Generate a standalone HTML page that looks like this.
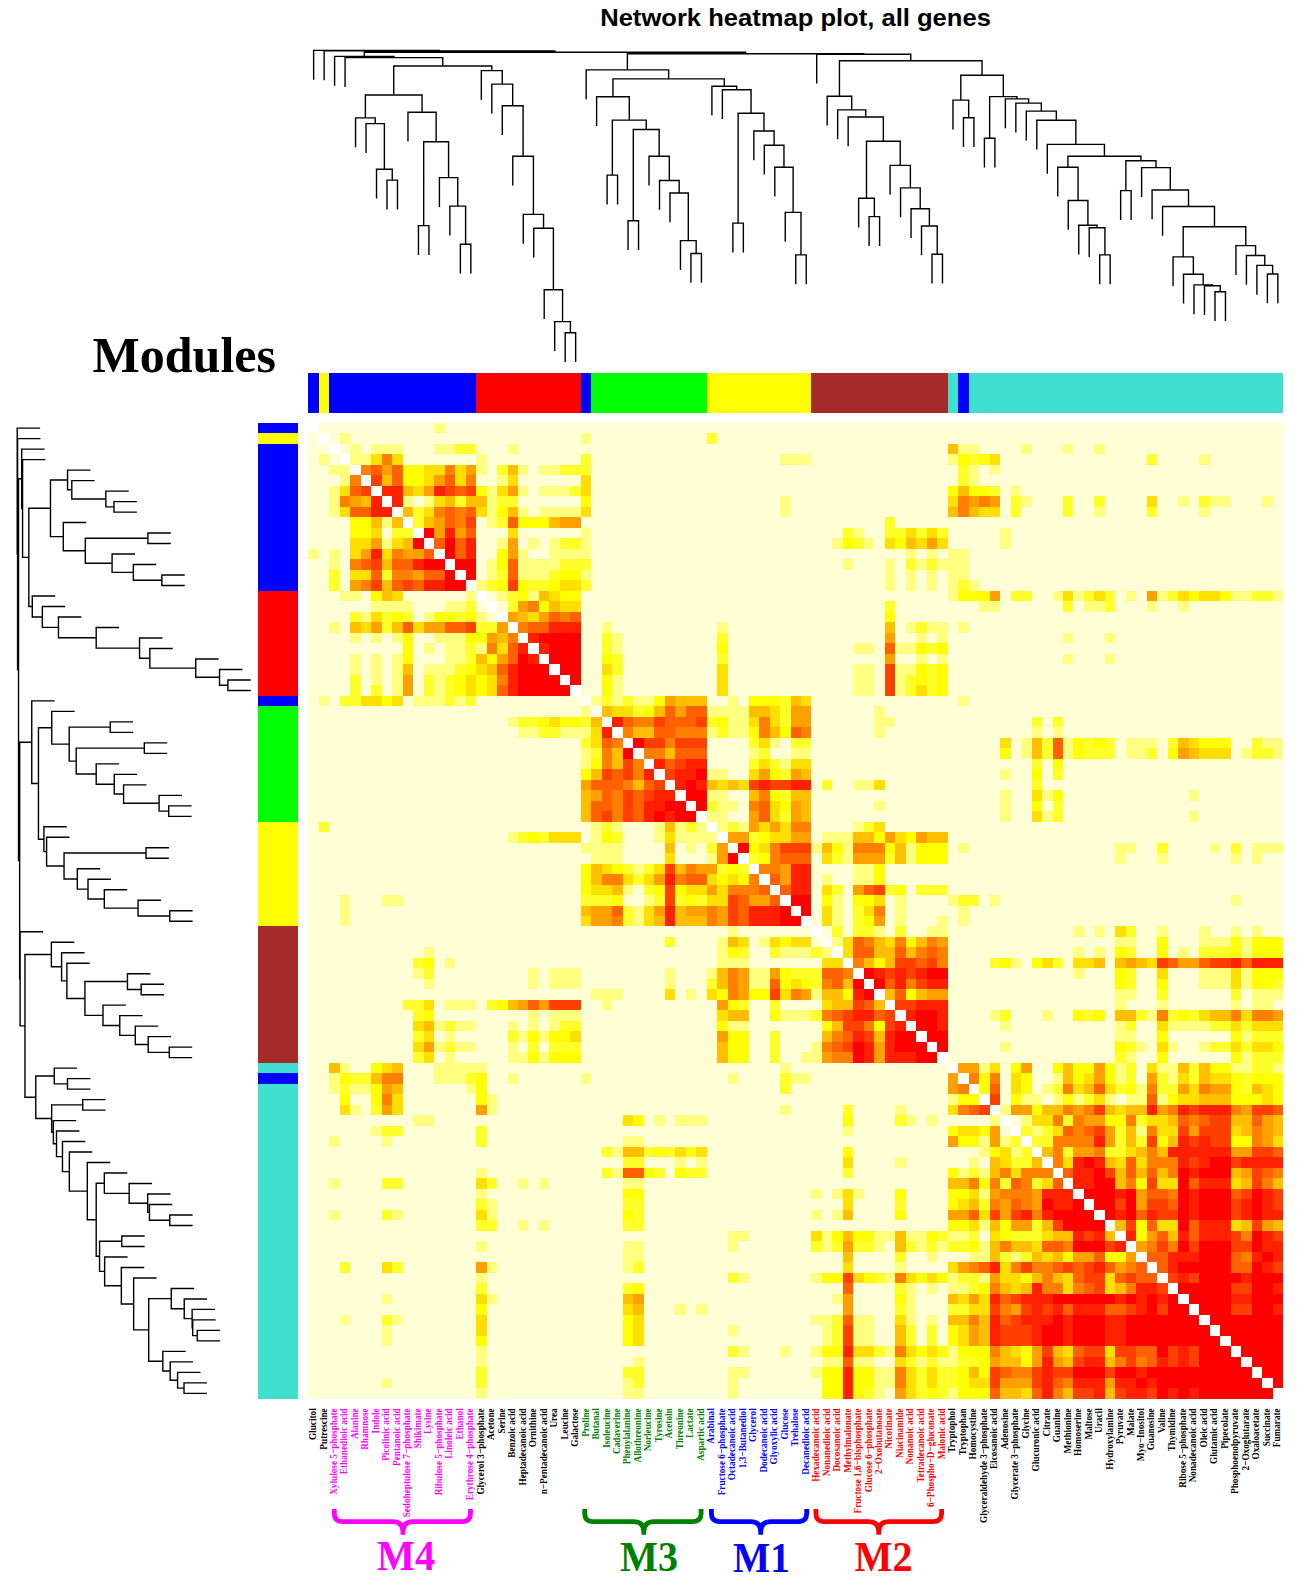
<!DOCTYPE html>
<html><head><meta charset="utf-8"><title>Network heatmap plot, all genes</title>
<style>html,body{margin:0;padding:0;background:#fff}svg{display:block}text{white-space:pre}</style></head><body>
<svg width="1310" height="1585" viewBox="0 0 1310 1585">
<rect width="1310" height="1585" fill="#fff"/>
<text id="title" x="600.2" y="26.1" font-family="'Liberation Sans',Arial,Helvetica,sans-serif" font-weight="bold" font-size="23.3" textLength="390.7" lengthAdjust="spacingAndGlyphs">Network heatmap plot, all genes</text>
<text id="modules" x="92.6" y="372.4" font-family="'Liberation Serif','Times New Roman',Times,serif" font-weight="bold" font-size="50">Modules</text>
<path d="M313.64 50.4V79M324.12 50.9V79.5M334.6 56.4V85M345.08 57.6V86.2M355.56 117.9V146.5M366.04 123.6V152.2M376.52 169.2V197.8M387 180.1V208.7M397.49 180.1V208.7M387 180.1H397.49M392.25 169.2V180.1M376.52 169.2H392.25M384.38 123.6V169.2M366.04 123.6H384.38M375.21 117.9V123.6M355.56 117.9H375.21M365.39 95V117.9M407.97 112.2V140.8M418.45 225.6V254.2M428.93 225.6V254.2M418.45 225.6H428.93M423.69 141.7V225.6M439.41 177.6V206.2M449.89 206.1V234.7M460.37 244.3V272.9M470.85 244.3V272.9M460.37 244.3H470.85M465.61 206.1V244.3M449.89 206.1H465.61M457.75 177.6V206.1M439.41 177.6H457.75M448.58 141.7V177.6M423.69 141.7H448.58M436.13 112.2V141.7M407.97 112.2H436.13M422.05 95V112.2M365.39 95H422.05M393.72 66V95M481.33 70.6V99.2M491.81 84.1V112.7M502.29 105.7V134.3M512.77 156.3V184.9M523.25 214.4V243M533.73 228.2V256.8M544.21 289.7V318.3M554.7 321.6V350.2M565.18 332.8V361.4M575.66 332.8V361.4M565.18 332.8H575.66M570.42 321.6V332.8M554.7 321.6H570.42M562.56 289.7V321.6M544.21 289.7H562.56M553.39 228.2V289.7M533.73 228.2H553.39M543.56 214.4V228.2M523.25 214.4H543.56M533.41 156.3V214.4M512.77 156.3H533.41M523.09 105.7V156.3M502.29 105.7H523.09M512.69 84.1V105.7M491.81 84.1H512.69M502.25 70.6V84.1M481.33 70.6H502.25M491.79 66V70.6M393.72 66H491.79M442.75 57.6V66M345.08 57.6H442.75M393.92 56.4V57.6M334.6 56.4H393.92M364.26 52.2V56.4M586.14 69.9V98.5M596.62 96.7V125.3M607.1 175.1V203.7M617.58 175.1V203.7M607.1 175.1H617.58M612.34 120.1V175.1M628.06 220.8V249.4M638.54 220.8V249.4M628.06 220.8H638.54M633.3 129.5V220.8M649.02 156.3V184.9M659.5 180.5V209.1M669.98 193V221.6M680.46 240.6V269.2M690.94 253.5V282.1M701.42 253.5V282.1M690.94 253.5H701.42M696.18 240.6V253.5M680.46 240.6H696.18M688.32 193V240.6M669.98 193H688.32M679.15 180.5V193M659.5 180.5H679.15M669.33 156.3V180.5M649.02 156.3H669.33M659.17 129.5V156.3M633.3 129.5H659.17M646.24 120.1V129.5M612.34 120.1H646.24M629.29 96.7V120.1M596.62 96.7H629.29M612.95 78.9V96.7M711.9 86.2V114.8M722.39 89.8V118.4M732.87 223.1V251.7M743.35 223.1V251.7M732.87 223.1H743.35M738.11 113.2V223.1M753.83 131V159.6M764.31 145.3V173.9M774.79 167.2V195.8M785.27 212.4V241M795.75 254.9V283.5M806.23 254.9V283.5M795.75 254.9H806.23M800.99 212.4V254.9M785.27 212.4H800.99M793.13 167.2V212.4M774.79 167.2H793.13M783.96 145.3V167.2M764.31 145.3H783.96M774.13 131V145.3M753.83 131H774.13M763.98 113.2V131M738.11 113.2H763.98M751.04 89.8V113.2M722.39 89.8H751.04M736.71 86.2V89.8M711.9 86.2H736.71M724.31 78.9V86.2M612.95 78.9H724.31M668.63 69.9V78.9M586.14 69.9H668.63M627.38 53.7V69.9M816.71 54.3V82.9M827.19 96.2V124.8M837.67 109.9V138.5M848.15 117V145.6M858.63 198.2V226.8M869.11 216.6V245.2M879.6 216.6V245.2M869.11 216.6H879.6M874.35 198.2V216.6M858.63 198.2H874.35M866.49 141.2V198.2M890.08 165.4V194M900.56 187.9V216.5M911.04 208.7V237.3M921.52 226V254.6M932 254.3V282.9M942.48 254.3V282.9M932 254.3H942.48M937.24 226V254.3M921.52 226H937.24M929.38 208.7V226M911.04 208.7H929.38M920.21 187.9V208.7M900.56 187.9H920.21M910.38 165.4V187.9M890.08 165.4H910.38M900.23 141.2V165.4M866.49 141.2H900.23M883.36 117V141.2M848.15 117H883.36M865.76 109.9V117M837.67 109.9H865.76M851.72 96.2V109.9M827.19 96.2H851.72M839.45 60.8V96.2M952.96 100.1V128.7M963.44 117.8V146.4M973.92 117.8V146.4M963.44 117.8H973.92M968.68 100.1V117.8M952.96 100.1H968.68M960.82 75.3V100.1M984.4 138.2V166.8M994.88 138.2V166.8M984.4 138.2H994.88M989.64 96.6V138.2M1005.36 98.9V127.5M1015.84 103.1V131.7M1026.32 111.1V139.7M1036.8 120.3V148.9M1047.29 144.4V173M1057.77 167.2V195.8M1068.25 200.5V229.1M1078.73 225.3V253.9M1089.21 227.7V256.3M1099.69 254.9V283.5M1110.17 254.9V283.5M1099.69 254.9H1110.17M1104.93 227.7V254.9M1089.21 227.7H1104.93M1097.07 225.3V227.7M1078.73 225.3H1097.07M1087.9 200.5V225.3M1068.25 200.5H1087.9M1078.07 167.2V200.5M1057.77 167.2H1078.07M1067.92 156.3V167.2M1120.65 190.6V219.2M1131.13 190.6V219.2M1120.65 190.6H1131.13M1125.89 160.8V190.6M1141.61 167.6V196.2M1152.09 190V218.6M1162.57 206.5V235.1M1173.05 256.9V285.5M1183.53 274.3V302.9M1194.01 284.9V313.5M1204.5 285.7V314.3M1214.98 291.8V320.4M1225.46 291.8V320.4M1214.98 291.8H1225.46M1220.22 285.7V291.8M1204.5 285.7H1220.22M1212.36 284.9V285.7M1194.01 284.9H1212.36M1203.19 274.3V284.9M1183.53 274.3H1203.19M1193.36 256.9V274.3M1173.05 256.9H1193.36M1183.21 226.7V256.9M1235.94 245.6V274.2M1246.42 255.5V284.1M1256.9 265.4V294M1267.38 274V302.6M1277.86 274V302.6M1267.38 274H1277.86M1272.62 265.4V274M1256.9 265.4H1272.62M1264.76 255.5V265.4M1246.42 255.5H1264.76M1255.59 245.6V255.5M1235.94 245.6H1255.59M1245.76 226.7V245.6M1183.21 226.7H1245.76M1214.48 206.5V226.7M1162.57 206.5H1214.48M1188.53 190V206.5M1152.09 190H1188.53M1170.31 167.6V190M1141.61 167.6H1170.31M1155.96 160.8V167.6M1125.89 160.8H1155.96M1140.93 156.3V160.8M1067.92 156.3H1140.93M1104.42 144.4V156.3M1047.29 144.4H1104.42M1075.85 120.3V144.4M1036.8 120.3H1075.85M1056.33 111.1V120.3M1026.32 111.1H1056.33M1041.33 103.1V111.1M1015.84 103.1H1041.33M1028.59 98.9V103.1M1005.36 98.9H1028.59M1016.97 96.6V98.9M989.64 96.6H1016.97M1003.31 75.3V96.6M960.82 75.3H1003.31M982.06 60.8V75.3M839.45 60.8H982.06M910.76 54.3V60.8M816.71 54.3H910.76M863.74 53.7V54.3M627.38 53.7H863.74M745.56 52.2V53.7M364.26 52.2H745.56M554.91 50.9V52.2M324.12 50.9H554.91M439.52 50.4V50.9M313.64 50.4H439.52" fill="none" stroke="#000" stroke-width="1.4" stroke-linecap="square"/>
<path d="M17.2 428.15H39.4M17.57 438.64H39.77M21.68 449.13H43.88M22.57 459.62H44.77M67.55 470.11H89.75M71.81 480.6H94.01M105.82 491.09H128.02M113.96 501.59H136.16M113.96 512.08H136.16M113.96 501.59V512.08M105.82 506.83H113.96M105.82 491.09V506.83M71.81 498.96H105.82M71.81 480.6V498.96M67.55 489.78H71.81M67.55 470.11V489.78M50.47 479.95H67.55M63.3 522.57H85.5M147.9 533.06H170.1M147.9 543.55H170.1M147.9 533.06V543.55M85.31 538.31H147.9M112.09 554.04H134.29M133.35 564.53H155.55M161.85 575.03H184.05M161.85 585.52H184.05M161.85 575.03V585.52M133.35 580.27H161.85M133.35 564.53V580.27M112.09 572.4H133.35M112.09 554.04V572.4M85.31 563.22H112.09M85.31 538.31V563.22M63.3 550.76H85.31M63.3 522.57V550.76M50.47 536.67H63.3M50.47 479.95V536.67M28.84 508.31H50.47M32.27 596.01H54.47M42.34 606.5H64.54M58.45 616.99H80.65M96.2 627.48H118.4M139.54 637.97H161.74M149.84 648.47H172.04M195.72 658.96H217.92M219.52 669.45H241.72M227.87 679.94H250.07M227.87 690.43H250.07M227.87 679.94V690.43M219.52 685.18H227.87M219.52 669.45V685.18M195.72 677.32H219.52M195.72 658.96V677.32M149.84 668.14H195.72M149.84 648.47V668.14M139.54 658.3H149.84M139.54 637.97V658.3M96.2 648.14H139.54M96.2 627.48V648.14M58.45 637.81H96.2M58.45 616.99V637.81M42.34 627.4H58.45M42.34 606.5V627.4M32.27 616.95H42.34M32.27 596.01V616.95M28.84 606.48H32.27M28.84 508.31V606.48M22.57 557.39H28.84M22.57 459.62V557.39M21.68 508.51H22.57M21.68 449.13V508.51M18.54 478.82H21.68M31.75 700.92H53.95M51.74 711.41H73.94M110.23 721.9H132.43M110.23 732.4H132.43M110.23 721.9V732.4M69.2 727.15H110.23M144.32 742.89H166.52M144.32 753.38H166.52M144.32 742.89V753.38M76.21 748.13H144.32M96.2 763.87H118.4M114.25 774.36H136.45M123.58 784.85H145.78M159.09 795.34H181.29M168.71 805.84H190.91M168.71 816.33H190.91M168.71 805.84V816.33M159.09 811.08H168.71M159.09 795.34V811.08M123.58 803.21H159.09M123.58 784.85V803.21M114.25 794.03H123.58M114.25 774.36V794.03M96.2 784.2H114.25M96.2 763.87V784.2M76.21 774.03H96.2M76.21 748.13V774.03M69.2 761.08H76.21M69.2 727.15V761.08M51.74 744.12H69.2M51.74 711.41V744.12M38.46 727.77H51.74M43.91 826.82H66.11M46.59 837.31H68.79M146.03 847.8H168.23M146.03 858.29H168.23M146.03 847.8V858.29M64.05 853.05H146.03M77.33 868.78H99.53M88 879.28H110.2M104.33 889.77H126.53M138.05 900.26H160.25M169.76 910.75H191.96M169.76 921.24H191.96M169.76 910.75V921.24M138.05 916H169.76M138.05 900.26V916M104.33 908.13H138.05M104.33 889.77V908.13M88 898.95H104.33M88 879.28V898.95M77.33 889.11H88M77.33 868.78V889.11M64.05 878.95H77.33M64.05 853.05V878.95M46.59 866H64.05M46.59 837.31V866M43.91 851.65H46.59M43.91 826.82V851.65M38.46 839.24H43.91M38.46 727.77V839.24M31.75 783.5H38.46M31.75 700.92V783.5M19.66 742.21H31.75M20.11 931.73H42.31M51.37 942.22H73.57M61.59 952.72H83.79M66.88 963.21H89.08M127.46 973.7H149.66M141.19 984.19H163.39M141.19 994.68H163.39M141.19 984.19V994.68M127.46 989.44H141.19M127.46 973.7V989.44M84.94 981.57H127.46M102.99 1005.17H125.19M119.78 1015.66H141.97M135.29 1026.16H157.49M148.2 1036.65H170.4M169.31 1047.14H191.51M169.31 1057.63H191.51M169.31 1047.14V1057.63M148.2 1052.38H169.31M148.2 1036.65V1052.38M135.29 1044.52H148.2M135.29 1026.16V1044.52M119.78 1035.34H135.29M119.78 1015.66V1035.34M102.99 1025.5H119.78M102.99 1005.17V1025.5M84.94 1015.34H102.99M84.94 981.57V1015.34M66.88 998.45H84.94M66.88 963.21V998.45M61.59 980.83H66.88M61.59 952.72V980.83M51.37 966.77H61.59M51.37 942.22V966.77M24.96 954.5H51.37M54.28 1068.12H76.48M67.48 1078.61H89.68M67.48 1089.1H89.68M67.48 1078.61V1089.1M54.28 1083.86H67.48M54.28 1068.12V1083.86M35.78 1075.99H54.28M82.7 1099.6H104.9M82.7 1110.09H104.9M82.7 1099.6V1110.09M51.67 1104.84H82.7M53.38 1120.58H75.58M56.51 1131.07H78.71M62.48 1141.56H84.68M69.35 1152.05H91.55M87.32 1162.54H109.52M104.33 1173.03H126.53M129.17 1183.53H151.37M147.68 1194.02H169.88M149.47 1204.51H171.67M169.76 1215H191.96M169.76 1225.49H191.96M169.76 1215V1225.49M149.47 1220.25H169.76M149.47 1204.51V1220.25M147.68 1212.38H149.47M147.68 1194.02V1212.38M129.17 1203.2H147.68M129.17 1183.53V1203.2M104.33 1193.36H129.17M104.33 1173.03V1193.36M96.2 1183.2H104.33M121.79 1235.98H143.99M121.79 1246.47H143.99M121.79 1235.98V1246.47M99.56 1241.23H121.79M104.63 1256.97H126.83M121.34 1267.46H143.54M133.65 1277.95H155.85M171.25 1288.44H193.45M184.23 1298.93H206.43M192.14 1309.42H214.34M192.73 1319.91H214.93M197.28 1330.41H219.48M197.28 1340.9H219.48M197.28 1330.41V1340.9M192.73 1335.65H197.28M192.73 1319.91V1335.65M192.14 1327.78H192.73M192.14 1309.42V1327.78M184.23 1318.6H192.14M184.23 1298.93V1318.6M171.25 1308.77H184.23M171.25 1288.44V1308.77M148.72 1298.6H171.25M162.82 1351.39H185.02M170.2 1361.88H192.4M177.59 1372.37H199.79M184.01 1382.86H206.21M184.01 1393.35H206.21M184.01 1382.86V1393.35M177.59 1388.11H184.01M177.59 1372.37V1388.11M170.2 1380.24H177.59M170.2 1361.88V1380.24M162.82 1371.06H170.2M162.82 1351.39V1371.06M148.72 1361.22H162.82M148.72 1298.6V1361.22M133.65 1329.91H148.72M133.65 1277.95V1329.91M121.34 1303.93H133.65M121.34 1267.46V1303.93M104.63 1285.69H121.34M104.63 1256.97V1285.69M99.56 1271.33H104.63M99.56 1241.23V1271.33M96.2 1256.28H99.56M96.2 1183.2V1256.28M87.32 1219.74H96.2M87.32 1162.54V1219.74M69.35 1191.14H87.32M69.35 1152.05V1191.14M62.48 1171.6H69.35M62.48 1141.56V1171.6M56.51 1156.58H62.48M56.51 1131.07V1156.58M53.38 1143.82H56.51M53.38 1120.58V1143.82M51.67 1132.2H53.38M51.67 1104.84V1132.2M35.78 1118.52H51.67M35.78 1075.99V1118.52M24.96 1097.26H35.78M24.96 954.5V1097.26M20.11 1025.88H24.96M20.11 931.73V1025.88M19.66 978.8H20.11M19.66 742.21V978.8M18.54 860.51H19.66M18.54 478.82V860.51M17.57 669.66H18.54M17.57 438.64V669.66M17.2 554.15H17.57M17.2 428.15V554.15" fill="none" stroke="#000" stroke-width="1.4" stroke-linecap="square"/>
<g shape-rendering="crispEdges">
<rect x="308.4" y="373.4" width="10.48" height="39.6" fill="#0000FF"/><rect x="318.88" y="373.4" width="10.48" height="39.6" fill="#FFFF00"/><rect x="329.36" y="373.4" width="146.73" height="39.6" fill="#0000FF"/><rect x="476.09" y="373.4" width="104.81" height="39.6" fill="#FF0000"/><rect x="580.9" y="373.4" width="10.48" height="39.6" fill="#0000FF"/><rect x="591.38" y="373.4" width="115.29" height="39.6" fill="#00FF00"/><rect x="706.66" y="373.4" width="104.81" height="39.6" fill="#FFFF00"/><rect x="811.47" y="373.4" width="136.25" height="39.6" fill="#A52A2A"/><rect x="947.72" y="373.4" width="10.48" height="39.6" fill="#40E0D0"/><rect x="958.2" y="373.4" width="10.48" height="39.6" fill="#0000FF"/><rect x="968.68" y="373.4" width="314.42" height="39.6" fill="#40E0D0"/>
<rect x="258.3" y="422.9" width="39.9" height="10.49" fill="#0000FF"/><rect x="258.3" y="433.39" width="39.9" height="10.49" fill="#FFFF00"/><rect x="258.3" y="443.88" width="39.9" height="146.88" fill="#0000FF"/><rect x="258.3" y="590.76" width="39.9" height="104.91" fill="#FF0000"/><rect x="258.3" y="695.68" width="39.9" height="10.49" fill="#0000FF"/><rect x="258.3" y="706.17" width="39.9" height="115.41" fill="#00FF00"/><rect x="258.3" y="821.57" width="39.9" height="104.91" fill="#FFFF00"/><rect x="258.3" y="926.49" width="39.9" height="136.39" fill="#A52A2A"/><rect x="258.3" y="1062.88" width="39.9" height="10.49" fill="#40E0D0"/><rect x="258.3" y="1073.37" width="39.9" height="10.49" fill="#0000FF"/><rect x="258.3" y="1083.86" width="39.9" height="314.74" fill="#40E0D0"/>
<rect x="308.4" y="422.9" width="974.7" height="975.7" fill="#FFFFD5"/>
<path fill="#FFFFFF" d="M308.4 422.9H318.88V433.39H308.4ZM318.88 433.39H329.36V443.88H318.88ZM329.36 443.88H339.84V454.37H329.36ZM339.84 454.37H350.32V464.87H339.84ZM350.32 464.87H360.8V475.36H350.32ZM360.8 475.36H371.28V485.85H360.8ZM371.28 485.85H381.76V496.34H371.28ZM381.76 496.34H392.25V506.83H381.76ZM392.25 506.83H402.73V517.32H392.25ZM402.73 517.32H413.21V527.81H402.73ZM413.21 527.81H423.69V538.31H413.21ZM423.69 538.31H434.17V548.8H423.69ZM434.17 548.8H444.65V559.29H434.17ZM444.65 559.29H455.13V569.78H444.65ZM455.13 569.78H465.61V580.27H455.13ZM465.61 580.27H476.09V590.76H465.61ZM476.09 590.76H486.57V601.25H476.09ZM486.57 601.25H497.05V611.75H486.57ZM497.05 611.75H507.53V622.24H497.05ZM507.53 622.24H518.01V632.73H507.53ZM518.01 632.73H528.49V643.22H518.01ZM528.49 643.22H538.97V653.71H528.49ZM538.97 653.71H549.45V664.2H538.97ZM549.45 664.2H559.94V674.69H549.45ZM559.94 674.69H570.42V685.18H559.94ZM570.42 685.18H580.9V695.68H570.42ZM580.9 695.68H591.38V706.17H580.9ZM591.38 706.17H601.86V716.66H591.38ZM601.86 716.66H612.34V727.15H601.86ZM612.34 727.15H622.82V737.64H612.34ZM622.82 737.64H633.3V748.13H622.82ZM633.3 748.13H643.78V758.62H633.3ZM643.78 758.62H654.26V769.12H643.78ZM654.26 769.12H664.74V779.61H654.26ZM664.74 779.61H675.22V790.1H664.74ZM675.22 790.1H685.7V800.59H675.22ZM685.7 800.59H696.18V811.08H685.7ZM696.18 811.08H706.66V821.57H696.18ZM706.66 821.57H717.15V832.06H706.66ZM717.15 832.06H727.63V842.56H717.15ZM727.63 842.56H738.11V853.05H727.63ZM738.11 853.05H748.59V863.54H738.11ZM748.59 863.54H759.07V874.03H748.59ZM759.07 874.03H769.55V884.52H759.07ZM769.55 884.52H780.03V895.01H769.55ZM780.03 895.01H790.51V905.5H780.03ZM790.51 905.5H800.99V916H790.51ZM800.99 916H811.47V926.49H800.99ZM811.47 926.49H821.95V936.98H811.47ZM821.95 936.98H832.43V947.47H821.95ZM832.43 947.47H842.91V957.96H832.43ZM842.91 957.96H853.39V968.45H842.91ZM853.39 968.45H863.87V978.94H853.39ZM863.87 978.94H874.35V989.44H863.87ZM874.35 989.44H884.84V999.93H874.35ZM884.84 999.93H895.32V1010.42H884.84ZM895.32 1010.42H905.8V1020.91H895.32ZM905.8 1020.91H916.28V1031.4H905.8ZM916.28 1031.4H926.76V1041.89H916.28ZM926.76 1041.89H937.24V1052.38H926.76ZM937.24 1052.38H947.72V1062.88H937.24ZM947.72 1062.88H958.2V1073.37H947.72ZM958.2 1073.37H968.68V1083.86H958.2ZM968.68 1083.86H979.16V1094.35H968.68ZM979.16 1094.35H989.64V1104.84H979.16ZM989.64 1104.84H1000.12V1115.33H989.64ZM1000.12 1115.33H1010.6V1125.82H1000.12ZM1010.6 1125.82H1021.08V1136.32H1010.6ZM1021.08 1136.32H1031.56V1146.81H1021.08ZM1031.56 1146.81H1042.05V1157.3H1031.56ZM1042.05 1157.3H1052.53V1167.79H1042.05ZM1052.53 1167.79H1063.01V1178.28H1052.53ZM1063.01 1178.28H1073.49V1188.77H1063.01ZM1073.49 1188.77H1083.97V1199.26H1073.49ZM1083.97 1199.26H1094.45V1209.75H1083.97ZM1094.45 1209.75H1104.93V1220.25H1094.45ZM1104.93 1220.25H1115.41V1230.74H1104.93ZM1115.41 1230.74H1125.89V1241.23H1115.41ZM1125.89 1241.23H1136.37V1251.72H1125.89ZM1136.37 1251.72H1146.85V1262.21H1136.37ZM1146.85 1262.21H1157.33V1272.7H1146.85ZM1157.33 1272.7H1167.81V1283.19H1157.33ZM1167.81 1283.19H1178.29V1293.69H1167.81ZM1178.29 1293.69H1188.77V1304.18H1178.29ZM1188.77 1304.18H1199.25V1314.67H1188.77ZM1199.25 1314.67H1209.74V1325.16H1199.25ZM1209.74 1325.16H1220.22V1335.65H1209.74ZM1220.22 1335.65H1230.7V1346.14H1220.22ZM1230.7 1346.14H1241.18V1356.63H1230.7ZM1241.18 1356.63H1251.66V1367.13H1241.18ZM1251.66 1367.13H1262.14V1377.62H1251.66ZM1262.14 1377.62H1272.62V1388.11H1262.14ZM1272.62 1388.11H1283.1V1398.6H1272.62Z"/>
<path fill="#FFFF80" d="M434.17 422.9H444.65V433.39H434.17ZM339.84 433.39H350.32V443.88H339.84ZM580.9 433.39H591.38V443.88H580.9ZM350.32 443.88H360.8V454.37H350.32ZM371.28 443.88H402.73V454.37H371.28ZM434.17 443.88H455.13V454.37H434.17ZM507.53 443.88H518.01V454.37H507.53ZM958.2 443.88H979.16V454.37H958.2ZM1021.08 443.88H1031.56V454.37H1021.08ZM1063.01 443.88H1073.49V454.37H1063.01ZM1094.45 443.88H1104.93V454.37H1094.45ZM318.88 454.37H329.36V464.87H318.88ZM350.32 454.37H371.28V464.87H350.32ZM476.09 454.37H486.57V464.87H476.09ZM780.03 454.37H811.47V464.87H780.03ZM947.72 454.37H958.2V464.87H947.72ZM1199.25 454.37H1209.74V464.87H1199.25ZM329.36 464.87H350.32V475.36H329.36ZM476.09 464.87H486.57V475.36H476.09ZM518.01 464.87H528.49V475.36H518.01ZM538.97 464.87H559.94V475.36H538.97ZM968.68 464.87H979.16V475.36H968.68ZM989.64 464.87H1000.12V475.36H989.64ZM339.84 475.36H350.32V485.85H339.84ZM497.05 475.36H507.53V485.85H497.05ZM968.68 475.36H979.16V485.85H968.68ZM329.36 485.85H339.84V496.34H329.36ZM486.57 485.85H497.05V496.34H486.57ZM518.01 485.85H528.49V496.34H518.01ZM538.97 485.85H570.42V496.34H538.97ZM1010.6 485.85H1021.08V496.34H1010.6ZM329.36 496.34H339.84V506.83H329.36ZM402.73 496.34H413.21V506.83H402.73ZM423.69 496.34H434.17V506.83H423.69ZM486.57 496.34H497.05V506.83H486.57ZM780.03 496.34H790.51V506.83H780.03ZM1021.08 496.34H1031.56V506.83H1021.08ZM1178.29 496.34H1188.77V506.83H1178.29ZM1209.74 496.34H1230.7V506.83H1209.74ZM1262.14 496.34H1272.62V506.83H1262.14ZM329.36 506.83H339.84V517.32H329.36ZM486.57 506.83H497.05V517.32H486.57ZM518.01 506.83H528.49V517.32H518.01ZM538.97 506.83H580.9V517.32H538.97ZM780.03 506.83H790.51V517.32H780.03ZM1094.45 506.83H1104.93V517.32H1094.45ZM1199.25 506.83H1209.74V517.32H1199.25ZM381.76 517.32H392.25V527.81H381.76ZM486.57 517.32H497.05V527.81H486.57ZM580.9 527.81H591.38V538.31H580.9ZM853.39 527.81H863.87V538.31H853.39ZM1000.12 527.81H1010.6V538.31H1000.12ZM381.76 538.31H392.25V548.8H381.76ZM497.05 538.31H507.53V548.8H497.05ZM528.49 538.31H538.97V548.8H528.49ZM549.45 538.31H559.94V548.8H549.45ZM580.9 538.31H591.38V548.8H580.9ZM832.43 538.31H842.91V548.8H832.43ZM863.87 538.31H874.35V548.8H863.87ZM1000.12 538.31H1010.6V548.8H1000.12ZM308.4 548.8H318.88V559.29H308.4ZM329.36 548.8H339.84V559.29H329.36ZM518.01 548.8H528.49V559.29H518.01ZM549.45 548.8H591.38V559.29H549.45ZM905.8 548.8H916.28V559.29H905.8ZM926.76 548.8H937.24V559.29H926.76ZM947.72 548.8H968.68V559.29H947.72ZM329.36 559.29H339.84V569.78H329.36ZM486.57 559.29H497.05V569.78H486.57ZM518.01 559.29H559.94V569.78H518.01ZM842.91 559.29H853.39V569.78H842.91ZM884.84 559.29H895.32V569.78H884.84ZM916.28 559.29H926.76V569.78H916.28ZM937.24 559.29H968.68V569.78H937.24ZM486.57 569.78H497.05V580.27H486.57ZM518.01 569.78H549.45V580.27H518.01ZM580.9 569.78H591.38V580.27H580.9ZM884.84 569.78H895.32V580.27H884.84ZM905.8 569.78H916.28V580.27H905.8ZM926.76 569.78H937.24V580.27H926.76ZM947.72 569.78H968.68V580.27H947.72ZM476.09 580.27H486.57V590.76H476.09ZM884.84 580.27H895.32V590.76H884.84ZM905.8 580.27H916.28V590.76H905.8ZM926.76 580.27H937.24V590.76H926.76ZM947.72 580.27H958.2V590.76H947.72ZM968.68 580.27H979.16V590.76H968.68ZM339.84 590.76H360.8V601.25H339.84ZM465.61 590.76H476.09V601.25H465.61ZM497.05 590.76H507.53V601.25H497.05ZM528.49 590.76H538.97V601.25H528.49ZM947.72 590.76H958.2V601.25H947.72ZM1052.53 590.76H1063.01V601.25H1052.53ZM1073.49 590.76H1083.97V601.25H1073.49ZM1125.89 590.76H1136.37V601.25H1125.89ZM1157.33 590.76H1167.81V601.25H1157.33ZM1230.7 590.76H1251.66V601.25H1230.7ZM1272.62 590.76H1283.1V601.25H1272.62ZM371.28 601.25H413.21V611.75H371.28ZM444.65 601.25H465.61V611.75H444.65ZM979.16 601.25H1000.12V611.75H979.16ZM1083.97 601.25H1104.93V611.75H1083.97ZM1146.85 601.25H1157.33V611.75H1146.85ZM1178.29 601.25H1188.77V611.75H1178.29ZM360.8 611.75H371.28V622.24H360.8ZM423.69 611.75H434.17V622.24H423.69ZM476.09 611.75H486.57V622.24H476.09ZM329.36 622.24H339.84V632.73H329.36ZM601.86 622.24H612.34V632.73H601.86ZM717.15 622.24H727.63V632.73H717.15ZM905.8 622.24H916.28V632.73H905.8ZM926.76 622.24H947.72V632.73H926.76ZM958.2 622.24H968.68V632.73H958.2ZM350.32 632.73H360.8V643.22H350.32ZM371.28 632.73H381.76V643.22H371.28ZM392.25 632.73H402.73V643.22H392.25ZM434.17 632.73H465.61V643.22H434.17ZM612.34 632.73H622.82V643.22H612.34ZM916.28 632.73H926.76V643.22H916.28ZM937.24 632.73H947.72V643.22H937.24ZM1063.01 632.73H1073.49V643.22H1063.01ZM1104.93 632.73H1115.41V643.22H1104.93ZM423.69 643.22H434.17V653.71H423.69ZM444.65 643.22H465.61V653.71H444.65ZM476.09 643.22H486.57V653.71H476.09ZM612.34 643.22H622.82V653.71H612.34ZM853.39 643.22H874.35V653.71H853.39ZM895.32 643.22H916.28V653.71H895.32ZM350.32 653.71H360.8V664.2H350.32ZM371.28 653.71H381.76V664.2H371.28ZM392.25 653.71H402.73V664.2H392.25ZM444.65 653.71H465.61V664.2H444.65ZM916.28 653.71H926.76V664.2H916.28ZM937.24 653.71H947.72V664.2H937.24ZM1063.01 653.71H1073.49V664.2H1063.01ZM1104.93 653.71H1115.41V664.2H1104.93ZM350.32 664.2H360.8V674.69H350.32ZM371.28 664.2H381.76V674.69H371.28ZM392.25 664.2H402.73V674.69H392.25ZM423.69 664.2H455.13V674.69H423.69ZM853.39 664.2H874.35V674.69H853.39ZM895.32 664.2H916.28V674.69H895.32ZM371.28 674.69H381.76V685.18H371.28ZM392.25 674.69H402.73V685.18H392.25ZM434.17 674.69H444.65V685.18H434.17ZM612.34 674.69H622.82V685.18H612.34ZM853.39 674.69H874.35V685.18H853.39ZM895.32 674.69H905.8V685.18H895.32ZM392.25 685.18H402.73V695.68H392.25ZM434.17 685.18H444.65V695.68H434.17ZM612.34 685.18H622.82V695.68H612.34ZM853.39 685.18H874.35V695.68H853.39ZM895.32 685.18H905.8V695.68H895.32ZM318.88 695.68H329.36V706.17H318.88ZM413.21 695.68H444.65V706.17H413.21ZM455.13 695.68H465.61V706.17H455.13ZM591.38 695.68H601.86V706.17H591.38ZM612.34 695.68H622.82V706.17H612.34ZM633.3 695.68H654.26V706.17H633.3ZM727.63 695.68H738.11V706.17H727.63ZM958.2 695.68H968.68V706.17H958.2ZM580.9 706.17H591.38V716.66H580.9ZM706.66 706.17H748.59V716.66H706.66ZM874.35 706.17H884.84V716.66H874.35ZM507.53 716.66H518.01V727.15H507.53ZM727.63 716.66H748.59V727.15H727.63ZM874.35 716.66H895.32V727.15H874.35ZM518.01 727.15H538.97V737.64H518.01ZM559.94 727.15H591.38V737.64H559.94ZM706.66 727.15H717.15V737.64H706.66ZM727.63 727.15H748.59V737.64H727.63ZM874.35 727.15H884.84V737.64H874.35ZM1031.56 727.15H1042.05V737.64H1031.56ZM1052.53 727.15H1063.01V737.64H1052.53ZM769.55 737.64H780.03V748.13H769.55ZM1021.08 737.64H1031.56V748.13H1021.08ZM1063.01 737.64H1073.49V748.13H1063.01ZM1125.89 737.64H1157.33V748.13H1125.89ZM1262.14 737.64H1283.1V748.13H1262.14ZM580.9 748.13H591.38V758.62H580.9ZM748.59 748.13H759.07V758.62H748.59ZM790.51 748.13H811.47V758.62H790.51ZM1021.08 748.13H1031.56V758.62H1021.08ZM1063.01 748.13H1073.49V758.62H1063.01ZM1125.89 748.13H1146.85V758.62H1125.89ZM1241.18 748.13H1251.66V758.62H1241.18ZM1272.62 748.13H1283.1V758.62H1272.62ZM580.9 758.62H591.38V769.12H580.9ZM780.03 758.62H790.51V769.12H780.03ZM706.66 769.12H727.63V779.61H706.66ZM1000.12 769.12H1010.6V779.61H1000.12ZM853.39 779.61H874.35V790.1H853.39ZM706.66 790.1H727.63V800.59H706.66ZM1000.12 790.1H1010.6V800.59H1000.12ZM1042.05 790.1H1052.53V800.59H1042.05ZM1188.77 790.1H1199.25V800.59H1188.77ZM717.15 800.59H738.11V811.08H717.15ZM874.35 800.59H884.84V811.08H874.35ZM1000.12 800.59H1010.6V811.08H1000.12ZM706.66 811.08H727.63V821.57H706.66ZM1000.12 811.08H1010.6V821.57H1000.12ZM1042.05 811.08H1052.53V821.57H1042.05ZM1188.77 811.08H1199.25V821.57H1188.77ZM591.38 821.57H601.86V832.06H591.38ZM612.34 821.57H622.82V832.06H612.34ZM654.26 821.57H664.74V832.06H654.26ZM675.22 821.57H685.7V832.06H675.22ZM696.18 821.57H706.66V832.06H696.18ZM717.15 821.57H727.63V832.06H717.15ZM738.11 821.57H748.59V832.06H738.11ZM853.39 821.57H863.87V832.06H853.39ZM507.53 832.06H518.01V842.56H507.53ZM591.38 832.06H601.86V842.56H591.38ZM654.26 832.06H664.74V842.56H654.26ZM675.22 832.06H717.15V842.56H675.22ZM821.95 832.06H853.39V842.56H821.95ZM580.9 842.56H622.82V853.05H580.9ZM685.7 842.56H696.18V853.05H685.7ZM811.47 842.56H821.95V853.05H811.47ZM842.91 842.56H853.39V853.05H842.91ZM905.8 842.56H916.28V853.05H905.8ZM958.2 842.56H968.68V853.05H958.2ZM1115.41 842.56H1136.37V853.05H1115.41ZM1209.74 842.56H1220.22V853.05H1209.74ZM1251.66 842.56H1283.1V853.05H1251.66ZM591.38 853.05H622.82V863.54H591.38ZM706.66 853.05H717.15V863.54H706.66ZM842.91 853.05H853.39V863.54H842.91ZM905.8 853.05H916.28V863.54H905.8ZM1115.41 853.05H1125.89V863.54H1115.41ZM1157.33 853.05H1167.81V863.54H1157.33ZM1230.7 853.05H1241.18V863.54H1230.7ZM1251.66 853.05H1262.14V863.54H1251.66ZM633.3 863.54H643.78V874.03H633.3ZM853.39 863.54H874.35V874.03H853.39ZM821.95 874.03H832.43V884.52H821.95ZM853.39 874.03H874.35V884.52H853.39ZM622.82 884.52H633.3V895.01H622.82ZM339.84 895.01H350.32V905.5H339.84ZM381.76 895.01H402.73V905.5H381.76ZM643.78 895.01H654.26V905.5H643.78ZM832.43 895.01H842.91V905.5H832.43ZM895.32 895.01H905.8V905.5H895.32ZM947.72 895.01H958.2V905.5H947.72ZM989.64 895.01H1000.12V905.5H989.64ZM1230.7 895.01H1241.18V905.5H1230.7ZM339.84 905.5H350.32V916H339.84ZM633.3 905.5H643.78V916H633.3ZM832.43 905.5H842.91V916H832.43ZM895.32 905.5H905.8V916H895.32ZM958.2 905.5H968.68V916H958.2ZM339.84 916H350.32V926.49H339.84ZM633.3 916H643.78V926.49H633.3ZM832.43 916H842.91V926.49H832.43ZM895.32 916H905.8V926.49H895.32ZM937.24 916H947.72V926.49H937.24ZM958.2 916H968.68V926.49H958.2ZM727.63 926.49H738.11V936.98H727.63ZM874.35 926.49H884.84V936.98H874.35ZM926.76 926.49H947.72V936.98H926.76ZM1073.49 926.49H1083.97V936.98H1073.49ZM1094.45 926.49H1104.93V936.98H1094.45ZM1157.33 926.49H1167.81V936.98H1157.33ZM1199.25 926.49H1209.74V936.98H1199.25ZM1230.7 926.49H1241.18V936.98H1230.7ZM1251.66 926.49H1262.14V936.98H1251.66ZM717.15 936.98H727.63V947.47H717.15ZM759.07 936.98H769.55V947.47H759.07ZM832.43 936.98H842.91V947.47H832.43ZM1115.41 936.98H1136.37V947.47H1115.41ZM1199.25 936.98H1230.7V947.47H1199.25ZM1241.18 936.98H1251.66V947.47H1241.18ZM423.69 947.47H434.17V957.96H423.69ZM717.15 947.47H727.63V957.96H717.15ZM780.03 947.47H811.47V957.96H780.03ZM821.95 947.47H832.43V957.96H821.95ZM1073.49 947.47H1083.97V957.96H1073.49ZM1094.45 947.47H1104.93V957.96H1094.45ZM1178.29 947.47H1188.77V957.96H1178.29ZM1241.18 947.47H1251.66V957.96H1241.18ZM444.65 957.96H455.13V968.45H444.65ZM717.15 957.96H748.59V968.45H717.15ZM1010.6 957.96H1021.08V968.45H1010.6ZM413.21 968.45H423.69V978.94H413.21ZM528.49 968.45H538.97V978.94H528.49ZM549.45 968.45H580.9V978.94H549.45ZM664.74 968.45H675.22V978.94H664.74ZM706.66 968.45H717.15V978.94H706.66ZM748.59 968.45H769.55V978.94H748.59ZM1073.49 968.45H1083.97V978.94H1073.49ZM1199.25 968.45H1230.7V978.94H1199.25ZM1241.18 968.45H1251.66V978.94H1241.18ZM423.69 978.94H434.17V989.44H423.69ZM528.49 978.94H538.97V989.44H528.49ZM549.45 978.94H580.9V989.44H549.45ZM664.74 978.94H675.22V989.44H664.74ZM748.59 978.94H769.55V989.44H748.59ZM1199.25 978.94H1230.7V989.44H1199.25ZM1241.18 978.94H1251.66V989.44H1241.18ZM591.38 989.44H622.82V999.93H591.38ZM685.7 989.44H696.18V999.93H685.7ZM811.47 989.44H821.95V999.93H811.47ZM1115.41 989.44H1136.37V999.93H1115.41ZM1251.66 989.44H1283.1V999.93H1251.66ZM444.65 999.93H476.09V1010.42H444.65ZM601.86 999.93H612.34V1010.42H601.86ZM1115.41 999.93H1125.89V1010.42H1115.41ZM1157.33 999.93H1167.81V1010.42H1157.33ZM1230.7 999.93H1241.18V1010.42H1230.7ZM1251.66 999.93H1272.62V1010.42H1251.66ZM528.49 1010.42H538.97V1020.91H528.49ZM549.45 1010.42H580.9V1020.91H549.45ZM780.03 1010.42H811.47V1020.91H780.03ZM989.64 1010.42H1000.12V1020.91H989.64ZM1042.05 1010.42H1052.53V1020.91H1042.05ZM1146.85 1010.42H1157.33V1020.91H1146.85ZM434.17 1020.91H444.65V1031.4H434.17ZM455.13 1020.91H476.09V1031.4H455.13ZM507.53 1020.91H518.01V1031.4H507.53ZM528.49 1020.91H538.97V1031.4H528.49ZM549.45 1020.91H559.94V1031.4H549.45ZM727.63 1020.91H748.59V1031.4H727.63ZM1000.12 1020.91H1010.6V1031.4H1000.12ZM1115.41 1020.91H1125.89V1031.4H1115.41ZM1167.81 1020.91H1209.74V1031.4H1167.81ZM444.65 1031.4H455.13V1041.89H444.65ZM518.01 1031.4H528.49V1041.89H518.01ZM538.97 1031.4H549.45V1041.89H538.97ZM1115.41 1031.4H1136.37V1041.89H1115.41ZM1241.18 1031.4H1251.66V1041.89H1241.18ZM434.17 1041.89H444.65V1052.38H434.17ZM455.13 1041.89H476.09V1052.38H455.13ZM507.53 1041.89H518.01V1052.38H507.53ZM811.47 1041.89H821.95V1052.38H811.47ZM1000.12 1041.89H1010.6V1052.38H1000.12ZM1136.37 1041.89H1146.85V1052.38H1136.37ZM1167.81 1041.89H1178.29V1052.38H1167.81ZM1199.25 1041.89H1209.74V1052.38H1199.25ZM444.65 1052.38H455.13V1062.88H444.65ZM507.53 1052.38H528.49V1062.88H507.53ZM538.97 1052.38H549.45V1062.88H538.97ZM800.99 1052.38H821.95V1062.88H800.99ZM1125.89 1052.38H1136.37V1062.88H1125.89ZM1241.18 1052.38H1251.66V1062.88H1241.18ZM339.84 1062.88H350.32V1073.37H339.84ZM434.17 1062.88H486.57V1073.37H434.17ZM780.03 1062.88H790.51V1073.37H780.03ZM979.16 1062.88H989.64V1073.37H979.16ZM1115.41 1062.88H1125.89V1073.37H1115.41ZM1157.33 1062.88H1178.29V1073.37H1157.33ZM1230.7 1062.88H1251.66V1073.37H1230.7ZM1272.62 1062.88H1283.1V1073.37H1272.62ZM329.36 1073.37H339.84V1083.86H329.36ZM434.17 1073.37H465.61V1083.86H434.17ZM507.53 1073.37H518.01V1083.86H507.53ZM580.9 1073.37H591.38V1083.86H580.9ZM727.63 1073.37H738.11V1083.86H727.63ZM790.51 1073.37H811.47V1083.86H790.51ZM1052.53 1073.37H1063.01V1083.86H1052.53ZM1115.41 1073.37H1125.89V1083.86H1115.41ZM1167.81 1073.37H1178.29V1083.86H1167.81ZM329.36 1083.86H339.84V1094.35H329.36ZM350.32 1083.86H371.28V1094.35H350.32ZM465.61 1083.86H476.09V1094.35H465.61ZM1042.05 1083.86H1052.53V1094.35H1042.05ZM1136.37 1083.86H1146.85V1094.35H1136.37ZM486.57 1094.35H497.05V1104.84H486.57ZM947.72 1094.35H958.2V1104.84H947.72ZM1021.08 1094.35H1042.05V1104.84H1021.08ZM1052.53 1094.35H1063.01V1104.84H1052.53ZM1073.49 1094.35H1083.97V1104.84H1073.49ZM1104.93 1094.35H1115.41V1104.84H1104.93ZM1125.89 1094.35H1146.85V1104.84H1125.89ZM1157.33 1094.35H1167.81V1104.84H1157.33ZM350.32 1104.84H360.8V1115.33H350.32ZM486.57 1104.84H497.05V1115.33H486.57ZM780.03 1104.84H790.51V1115.33H780.03ZM895.32 1104.84H905.8V1115.33H895.32ZM1000.12 1104.84H1010.6V1115.33H1000.12ZM413.21 1115.33H434.17V1125.82H413.21ZM654.26 1115.33H664.74V1125.82H654.26ZM675.22 1115.33H706.66V1125.82H675.22ZM905.8 1115.33H916.28V1125.82H905.8ZM926.76 1115.33H937.24V1125.82H926.76ZM989.64 1115.33H1000.12V1125.82H989.64ZM1021.08 1115.33H1031.56V1125.82H1021.08ZM371.28 1125.82H381.76V1136.32H371.28ZM842.91 1125.82H853.39V1136.32H842.91ZM1031.56 1125.82H1042.05V1136.32H1031.56ZM1136.37 1125.82H1146.85V1136.32H1136.37ZM329.36 1136.32H339.84V1146.81H329.36ZM381.76 1136.32H392.25V1146.81H381.76ZM622.82 1136.32H643.78V1146.81H622.82ZM979.16 1136.32H989.64V1146.81H979.16ZM1000.12 1136.32H1010.6V1146.81H1000.12ZM612.34 1146.81H622.82V1157.3H612.34ZM979.16 1146.81H989.64V1157.3H979.16ZM1010.6 1146.81H1021.08V1157.3H1010.6ZM675.22 1157.3H685.7V1167.79H675.22ZM696.18 1157.3H706.66V1167.79H696.18ZM895.32 1157.3H905.8V1167.79H895.32ZM968.68 1157.3H979.16V1167.79H968.68ZM476.09 1167.79H486.57V1178.28H476.09ZM612.34 1167.79H622.82V1178.28H612.34ZM958.2 1167.79H968.68V1178.28H958.2ZM979.16 1167.79H989.64V1178.28H979.16ZM329.36 1178.28H339.84V1188.77H329.36ZM518.01 1178.28H528.49V1188.77H518.01ZM538.97 1178.28H549.45V1188.77H538.97ZM622.82 1178.28H643.78V1188.77H622.82ZM476.09 1188.77H486.57V1199.26H476.09ZM811.47 1188.77H821.95V1199.26H811.47ZM832.43 1188.77H842.91V1199.26H832.43ZM853.39 1188.77H863.87V1199.26H853.39ZM979.16 1188.77H989.64V1199.26H979.16ZM486.57 1199.26H497.05V1209.75H486.57ZM329.36 1209.75H339.84V1220.25H329.36ZM392.25 1209.75H402.73V1220.25H392.25ZM486.57 1209.75H497.05V1220.25H486.57ZM811.47 1209.75H821.95V1220.25H811.47ZM832.43 1209.75H842.91V1220.25H832.43ZM518.01 1220.25H528.49V1230.74H518.01ZM538.97 1220.25H549.45V1230.74H538.97ZM979.16 1220.25H989.64V1230.74H979.16ZM727.63 1230.74H748.59V1241.23H727.63ZM821.95 1230.74H832.43V1241.23H821.95ZM874.35 1230.74H895.32V1241.23H874.35ZM905.8 1230.74H926.76V1241.23H905.8ZM947.72 1230.74H968.68V1241.23H947.72ZM476.09 1241.23H486.57V1251.72H476.09ZM622.82 1241.23H643.78V1251.72H622.82ZM727.63 1241.23H738.11V1251.72H727.63ZM821.95 1241.23H832.43V1251.72H821.95ZM874.35 1241.23H884.84V1251.72H874.35ZM916.28 1241.23H926.76V1251.72H916.28ZM937.24 1241.23H947.72V1251.72H937.24ZM979.16 1241.23H989.64V1251.72H979.16ZM622.82 1251.72H643.78V1262.21H622.82ZM926.76 1251.72H937.24V1262.21H926.76ZM968.68 1251.72H989.64V1262.21H968.68ZM1010.6 1251.72H1021.08V1262.21H1010.6ZM486.57 1262.21H497.05V1272.7H486.57ZM622.82 1262.21H633.3V1272.7H622.82ZM895.32 1262.21H905.8V1272.7H895.32ZM476.09 1272.7H486.57V1283.19H476.09ZM738.11 1272.7H748.59V1283.19H738.11ZM811.47 1272.7H821.95V1283.19H811.47ZM884.84 1272.7H895.32V1283.19H884.84ZM947.72 1272.7H958.2V1283.19H947.72ZM979.16 1272.7H989.64V1283.19H979.16ZM905.8 1283.19H916.28V1293.69H905.8ZM926.76 1283.19H937.24V1293.69H926.76ZM947.72 1283.19H968.68V1293.69H947.72ZM381.76 1293.69H392.25V1304.18H381.76ZM486.57 1293.69H497.05V1304.18H486.57ZM832.43 1293.69H842.91V1304.18H832.43ZM905.8 1293.69H916.28V1304.18H905.8ZM675.22 1304.18H685.7V1314.67H675.22ZM696.18 1304.18H706.66V1314.67H696.18ZM905.8 1304.18H916.28V1314.67H905.8ZM339.84 1314.67H350.32V1325.16H339.84ZM392.25 1314.67H402.73V1325.16H392.25ZM811.47 1314.67H832.43V1325.16H811.47ZM853.39 1314.67H874.35V1325.16H853.39ZM905.8 1314.67H916.28V1325.16H905.8ZM926.76 1314.67H937.24V1325.16H926.76ZM381.76 1325.16H392.25V1335.65H381.76ZM727.63 1325.16H738.11V1335.65H727.63ZM821.95 1325.16H832.43V1335.65H821.95ZM853.39 1325.16H874.35V1335.65H853.39ZM381.76 1335.65H392.25V1346.14H381.76ZM821.95 1335.65H832.43V1346.14H821.95ZM853.39 1335.65H874.35V1346.14H853.39ZM476.09 1346.14H486.57V1356.63H476.09ZM738.11 1346.14H748.59V1356.63H738.11ZM780.03 1346.14H790.51V1356.63H780.03ZM811.47 1346.14H821.95V1356.63H811.47ZM884.84 1346.14H895.32V1356.63H884.84ZM947.72 1346.14H958.2V1356.63H947.72ZM476.09 1356.63H486.57V1367.13H476.09ZM633.3 1356.63H643.78V1367.13H633.3ZM821.95 1356.63H842.91V1367.13H821.95ZM853.39 1356.63H874.35V1367.13H853.39ZM916.28 1356.63H926.76V1367.13H916.28ZM937.24 1356.63H958.2V1367.13H937.24ZM727.63 1367.13H748.59V1377.62H727.63ZM811.47 1367.13H821.95V1377.62H811.47ZM874.35 1367.13H895.32V1377.62H874.35ZM381.76 1377.62H392.25V1388.11H381.76ZM622.82 1377.62H633.3V1388.11H622.82ZM727.63 1377.62H738.11V1388.11H727.63ZM874.35 1377.62H895.32V1388.11H874.35ZM476.09 1388.11H486.57V1398.6H476.09ZM622.82 1388.11H643.78V1398.6H622.82ZM727.63 1388.11H738.11V1398.6H727.63ZM874.35 1388.11H884.84V1398.6H874.35ZM947.72 1388.11H958.2V1398.6H947.72Z"/>
<path fill="#FFFF2A" d="M706.66 433.39H717.15V443.88H706.66ZM455.13 443.88H476.09V454.37H455.13ZM580.9 454.37H591.38V464.87H580.9ZM968.68 454.37H979.16V464.87H968.68ZM1146.85 454.37H1157.33V464.87H1146.85ZM497.05 464.87H507.53V475.36H497.05ZM559.94 464.87H591.38V475.36H559.94ZM958.2 464.87H968.68V475.36H958.2ZM958.2 475.36H968.68V485.85H958.2ZM570.42 485.85H580.9V496.34H570.42ZM989.64 485.85H1000.12V496.34H989.64ZM455.13 496.34H465.61V506.83H455.13ZM497.05 496.34H518.01V506.83H497.05ZM1010.6 496.34H1021.08V506.83H1010.6ZM1063.01 496.34H1073.49V506.83H1063.01ZM1094.45 496.34H1104.93V506.83H1094.45ZM1199.25 496.34H1209.74V506.83H1199.25ZM413.21 506.83H423.69V517.32H413.21ZM1010.6 506.83H1021.08V517.32H1010.6ZM1063.01 506.83H1073.49V517.32H1063.01ZM1146.85 506.83H1157.33V517.32H1146.85ZM413.21 517.32H423.69V527.81H413.21ZM497.05 517.32H507.53V527.81H497.05ZM884.84 517.32H895.32V527.81H884.84ZM392.25 527.81H413.21V538.31H392.25ZM842.91 527.81H853.39V538.31H842.91ZM884.84 527.81H905.8V538.31H884.84ZM916.28 527.81H926.76V538.31H916.28ZM937.24 527.81H947.72V538.31H937.24ZM559.94 538.31H580.9V548.8H559.94ZM853.39 538.31H863.87V548.8H853.39ZM559.94 559.29H591.38V569.78H559.94ZM905.8 559.29H916.28V569.78H905.8ZM926.76 559.29H937.24V569.78H926.76ZM329.36 569.78H339.84V580.27H329.36ZM381.76 569.78H392.25V580.27H381.76ZM497.05 569.78H507.53V580.27H497.05ZM549.45 569.78H559.94V580.27H549.45ZM329.36 580.27H339.84V590.76H329.36ZM486.57 580.27H497.05V590.76H486.57ZM528.49 580.27H549.45V590.76H528.49ZM580.9 580.27H591.38V590.76H580.9ZM958.2 580.27H968.68V590.76H958.2ZM507.53 590.76H518.01V601.25H507.53ZM1010.6 590.76H1031.56V601.25H1010.6ZM1083.97 590.76H1094.45V601.25H1083.97ZM1104.93 590.76H1115.41V601.25H1104.93ZM1167.81 590.76H1178.29V601.25H1167.81ZM1251.66 590.76H1272.62V601.25H1251.66ZM465.61 601.25H476.09V611.75H465.61ZM507.53 601.25H518.01V611.75H507.53ZM884.84 601.25H895.32V611.75H884.84ZM1063.01 601.25H1073.49V611.75H1063.01ZM1104.93 601.25H1115.41V611.75H1104.93ZM350.32 611.75H360.8V622.24H350.32ZM381.76 611.75H392.25V622.24H381.76ZM402.73 611.75H413.21V622.24H402.73ZM455.13 611.75H465.61V622.24H455.13ZM381.76 622.24H392.25V632.73H381.76ZM476.09 622.24H497.05V632.73H476.09ZM916.28 622.24H926.76V632.73H916.28ZM601.86 632.73H612.34V643.22H601.86ZM717.15 632.73H727.63V643.22H717.15ZM465.61 643.22H476.09V653.71H465.61ZM601.86 643.22H612.34V653.71H601.86ZM926.76 643.22H937.24V653.71H926.76ZM465.61 653.71H476.09V664.2H465.61ZM612.34 653.71H622.82V664.2H612.34ZM717.15 653.71H727.63V664.2H717.15ZM455.13 664.2H465.61V674.69H455.13ZM612.34 664.2H622.82V674.69H612.34ZM926.76 664.2H937.24V674.69H926.76ZM350.32 674.69H360.8V685.18H350.32ZM423.69 674.69H434.17V685.18H423.69ZM444.65 674.69H455.13V685.18H444.65ZM905.8 674.69H916.28V685.18H905.8ZM926.76 674.69H937.24V685.18H926.76ZM350.32 685.18H360.8V695.68H350.32ZM371.28 685.18H381.76V695.68H371.28ZM423.69 685.18H434.17V695.68H423.69ZM444.65 685.18H455.13V695.68H444.65ZM905.8 685.18H916.28V695.68H905.8ZM926.76 685.18H937.24V695.68H926.76ZM339.84 695.68H360.8V706.17H339.84ZM444.65 695.68H455.13V706.17H444.65ZM465.61 695.68H476.09V706.17H465.61ZM601.86 695.68H612.34V706.17H601.86ZM622.82 695.68H633.3V706.17H622.82ZM780.03 695.68H790.51V706.17H780.03ZM633.3 706.17H643.78V716.66H633.3ZM780.03 706.17H790.51V716.66H780.03ZM518.01 716.66H538.97V727.15H518.01ZM580.9 716.66H591.38V727.15H580.9ZM706.66 716.66H717.15V727.15H706.66ZM780.03 716.66H790.51V727.15H780.03ZM1031.56 716.66H1042.05V727.15H1031.56ZM1052.53 716.66H1063.01V727.15H1052.53ZM538.97 727.15H559.94V737.64H538.97ZM717.15 727.15H727.63V737.64H717.15ZM580.9 737.64H591.38V748.13H580.9ZM748.59 737.64H759.07V748.13H748.59ZM790.51 737.64H811.47V748.13H790.51ZM1042.05 737.64H1052.53V748.13H1042.05ZM1083.97 737.64H1094.45V748.13H1083.97ZM1104.93 737.64H1115.41V748.13H1104.93ZM1167.81 737.64H1178.29V748.13H1167.81ZM1251.66 737.64H1262.14V748.13H1251.66ZM591.38 748.13H601.86V758.62H591.38ZM759.07 748.13H769.55V758.62H759.07ZM1042.05 748.13H1052.53V758.62H1042.05ZM1083.97 748.13H1115.41V758.62H1083.97ZM1146.85 748.13H1157.33V758.62H1146.85ZM1251.66 748.13H1272.62V758.62H1251.66ZM748.59 758.62H759.07V769.12H748.59ZM769.55 758.62H780.03V769.12H769.55ZM1031.56 758.62H1042.05V769.12H1031.56ZM780.03 769.12H790.51V779.61H780.03ZM1052.53 769.12H1063.01V779.61H1052.53ZM821.95 779.61H832.43V790.1H821.95ZM1031.56 779.61H1042.05V790.1H1031.56ZM780.03 790.1H790.51V800.59H780.03ZM706.66 800.59H717.15V811.08H706.66ZM1052.53 800.59H1063.01V811.08H1052.53ZM780.03 811.08H790.51V821.57H780.03ZM1052.53 811.08H1063.01V821.57H1052.53ZM318.88 821.57H329.36V832.06H318.88ZM601.86 821.57H612.34V832.06H601.86ZM685.7 821.57H696.18V832.06H685.7ZM727.63 821.57H738.11V832.06H727.63ZM863.87 821.57H874.35V832.06H863.87ZM518.01 832.06H528.49V842.56H518.01ZM538.97 832.06H549.45V842.56H538.97ZM612.34 832.06H622.82V842.56H612.34ZM748.59 832.06H759.07V842.56H748.59ZM706.66 842.56H717.15V853.05H706.66ZM1157.33 842.56H1167.81V853.05H1157.33ZM1230.7 842.56H1241.18V853.05H1230.7ZM748.59 853.05H759.07V863.54H748.59ZM832.43 853.05H842.91V863.54H832.43ZM884.84 853.05H895.32V863.54H884.84ZM622.82 863.54H633.3V874.03H622.82ZM643.78 863.54H654.26V874.03H643.78ZM717.15 863.54H727.63V874.03H717.15ZM738.11 863.54H748.59V874.03H738.11ZM633.3 874.03H643.78V884.52H633.3ZM643.78 884.52H654.26V895.01H643.78ZM832.43 884.52H842.91V895.01H832.43ZM884.84 884.52H895.32V895.01H884.84ZM916.28 884.52H947.72V895.01H916.28ZM580.9 895.01H612.34V905.5H580.9ZM654.26 895.01H664.74V905.5H654.26ZM675.22 895.01H685.7V905.5H675.22ZM696.18 895.01H706.66V905.5H696.18ZM958.2 895.01H979.16V905.5H958.2ZM622.82 905.5H633.3V916H622.82ZM853.39 905.5H863.87V916H853.39ZM622.82 916H633.3V926.49H622.82ZM853.39 916H863.87V926.49H853.39ZM832.43 926.49H842.91V936.98H832.43ZM853.39 926.49H874.35V936.98H853.39ZM895.32 926.49H905.8V936.98H895.32ZM1125.89 926.49H1136.37V936.98H1125.89ZM664.74 936.98H675.22V947.47H664.74ZM738.11 947.47H748.59V957.96H738.11ZM769.55 947.47H780.03V957.96H769.55ZM811.47 947.47H821.95V957.96H811.47ZM1125.89 947.47H1136.37V957.96H1125.89ZM1199.25 947.47H1230.7V957.96H1199.25ZM413.21 957.96H423.69V968.45H413.21ZM989.64 957.96H1000.12V968.45H989.64ZM1052.53 957.96H1063.01V968.45H1052.53ZM423.69 968.45H434.17V978.94H423.69ZM790.51 968.45H821.95V978.94H790.51ZM1125.89 968.45H1136.37V978.94H1125.89ZM706.66 978.94H717.15V989.44H706.66ZM811.47 978.94H821.95V989.44H811.47ZM1125.89 978.94H1136.37V989.44H1125.89ZM1272.62 978.94H1283.1V989.44H1272.62ZM1157.33 989.44H1167.81V999.93H1157.33ZM1230.7 989.44H1241.18V999.93H1230.7ZM402.73 999.93H423.69V1010.42H402.73ZM486.57 999.93H497.05V1010.42H486.57ZM738.11 999.93H748.59V1010.42H738.11ZM769.55 999.93H780.03V1010.42H769.55ZM413.21 1010.42H423.69V1020.91H413.21ZM811.47 1010.42H821.95V1020.91H811.47ZM1000.12 1010.42H1010.6V1020.91H1000.12ZM1083.97 1010.42H1094.45V1020.91H1083.97ZM1136.37 1010.42H1146.85V1020.91H1136.37ZM1167.81 1010.42H1178.29V1020.91H1167.81ZM1188.77 1010.42H1199.25V1020.91H1188.77ZM444.65 1020.91H455.13V1031.4H444.65ZM559.94 1020.91H580.9V1031.4H559.94ZM1125.89 1020.91H1136.37V1031.4H1125.89ZM1209.74 1020.91H1230.7V1031.4H1209.74ZM1241.18 1020.91H1251.66V1031.4H1241.18ZM413.21 1031.4H423.69V1041.89H413.21ZM507.53 1031.4H518.01V1041.89H507.53ZM769.55 1031.4H780.03V1041.89H769.55ZM1251.66 1031.4H1283.1V1041.89H1251.66ZM444.65 1041.89H455.13V1052.38H444.65ZM528.49 1041.89H538.97V1052.38H528.49ZM549.45 1041.89H580.9V1052.38H549.45ZM769.55 1041.89H780.03V1052.38H769.55ZM1125.89 1041.89H1136.37V1052.38H1125.89ZM1209.74 1041.89H1230.7V1052.38H1209.74ZM1241.18 1041.89H1251.66V1052.38H1241.18ZM413.21 1052.38H423.69V1062.88H413.21ZM769.55 1052.38H780.03V1062.88H769.55ZM1115.41 1052.38H1125.89V1062.88H1115.41ZM1251.66 1052.38H1283.1V1062.88H1251.66ZM1125.89 1062.88H1136.37V1073.37H1125.89ZM1188.77 1062.88H1199.25V1073.37H1188.77ZM1251.66 1062.88H1272.62V1073.37H1251.66ZM350.32 1073.37H371.28V1083.86H350.32ZM465.61 1073.37H476.09V1083.86H465.61ZM780.03 1073.37H790.51V1083.86H780.03ZM1125.89 1073.37H1136.37V1083.86H1125.89ZM1157.33 1073.37H1167.81V1083.86H1157.33ZM1188.77 1073.37H1199.25V1083.86H1188.77ZM1241.18 1073.37H1251.66V1083.86H1241.18ZM339.84 1083.86H350.32V1094.35H339.84ZM780.03 1083.86H790.51V1094.35H780.03ZM1052.53 1083.86H1063.01V1094.35H1052.53ZM1115.41 1083.86H1125.89V1094.35H1115.41ZM1157.33 1083.86H1178.29V1094.35H1157.33ZM1241.18 1083.86H1251.66V1094.35H1241.18ZM1083.97 1094.35H1094.45V1104.84H1083.97ZM371.28 1104.84H381.76V1115.33H371.28ZM842.91 1104.84H853.39V1115.33H842.91ZM895.32 1115.33H905.8V1125.82H895.32ZM1063.01 1115.33H1073.49V1125.82H1063.01ZM1136.37 1115.33H1146.85V1125.82H1136.37ZM381.76 1125.82H402.73V1136.32H381.76ZM476.09 1125.82H486.57V1136.32H476.09ZM1021.08 1125.82H1031.56V1136.32H1021.08ZM1042.05 1125.82H1052.53V1136.32H1042.05ZM1115.41 1125.82H1125.89V1136.32H1115.41ZM476.09 1136.32H486.57V1146.81H476.09ZM1010.6 1136.32H1021.08V1146.81H1010.6ZM1031.56 1136.32H1052.53V1146.81H1031.56ZM1115.41 1136.32H1125.89V1146.81H1115.41ZM1136.37 1136.32H1146.85V1146.81H1136.37ZM601.86 1146.81H612.34V1157.3H601.86ZM643.78 1146.81H654.26V1157.3H643.78ZM664.74 1146.81H675.22V1157.3H664.74ZM1021.08 1146.81H1031.56V1157.3H1021.08ZM1063.01 1146.81H1073.49V1157.3H1063.01ZM1104.93 1146.81H1125.89V1157.3H1104.93ZM622.82 1157.3H643.78V1167.79H622.82ZM1010.6 1157.3H1031.56V1167.79H1010.6ZM601.86 1167.79H612.34V1178.28H601.86ZM654.26 1167.79H664.74V1178.28H654.26ZM685.7 1167.79H706.66V1178.28H685.7ZM842.91 1167.79H853.39V1178.28H842.91ZM968.68 1167.79H979.16V1178.28H968.68ZM381.76 1178.28H402.73V1188.77H381.76ZM486.57 1178.28H497.05V1188.77H486.57ZM1000.12 1178.28H1010.6V1188.77H1000.12ZM1031.56 1178.28H1042.05V1188.77H1031.56ZM476.09 1199.26H486.57V1209.75H476.09ZM622.82 1199.26H643.78V1209.75H622.82ZM895.32 1199.26H905.8V1209.75H895.32ZM979.16 1199.26H989.64V1209.75H979.16ZM381.76 1209.75H392.25V1220.25H381.76ZM633.3 1209.75H643.78V1220.25H633.3ZM476.09 1220.25H497.05V1230.74H476.09ZM622.82 1220.25H643.78V1230.74H622.82ZM1031.56 1220.25H1042.05V1230.74H1031.56ZM937.24 1230.74H947.72V1241.23H937.24ZM968.68 1230.74H979.16V1241.23H968.68ZM1010.6 1230.74H1042.05V1241.23H1010.6ZM811.47 1241.23H821.95V1251.72H811.47ZM832.43 1241.23H842.91V1251.72H832.43ZM853.39 1241.23H874.35V1251.72H853.39ZM905.8 1241.23H916.28V1251.72H905.8ZM926.76 1241.23H937.24V1251.72H926.76ZM947.72 1241.23H968.68V1251.72H947.72ZM895.32 1251.72H905.8V1262.21H895.32ZM1000.12 1251.72H1010.6V1262.21H1000.12ZM1021.08 1251.72H1031.56V1262.21H1021.08ZM339.84 1262.21H350.32V1272.7H339.84ZM392.25 1262.21H402.73V1272.7H392.25ZM633.3 1262.21H643.78V1272.7H633.3ZM727.63 1272.7H738.11V1283.19H727.63ZM874.35 1272.7H884.84V1283.19H874.35ZM958.2 1272.7H979.16V1283.19H958.2ZM476.09 1283.19H486.57V1293.69H476.09ZM622.82 1283.19H633.3V1293.69H622.82ZM895.32 1283.19H905.8V1293.69H895.32ZM968.68 1283.19H979.16V1293.69H968.68ZM895.32 1304.18H905.8V1314.67H895.32ZM947.72 1304.18H968.68V1314.67H947.72ZM381.76 1314.67H392.25V1325.16H381.76ZM832.43 1314.67H842.91V1325.16H832.43ZM832.43 1325.16H842.91V1335.65H832.43ZM905.8 1325.16H916.28V1335.65H905.8ZM926.76 1325.16H937.24V1335.65H926.76ZM832.43 1335.65H842.91V1346.14H832.43ZM905.8 1335.65H916.28V1346.14H905.8ZM926.76 1335.65H937.24V1346.14H926.76ZM727.63 1346.14H738.11V1356.63H727.63ZM874.35 1346.14H884.84V1356.63H874.35ZM905.8 1356.63H916.28V1367.13H905.8ZM926.76 1356.63H937.24V1367.13H926.76ZM958.2 1356.63H979.16V1367.13H958.2ZM476.09 1367.13H486.57V1377.62H476.09ZM622.82 1367.13H643.78V1377.62H622.82ZM916.28 1367.13H926.76V1377.62H916.28ZM937.24 1367.13H958.2V1377.62H937.24ZM476.09 1377.62H486.57V1388.11H476.09ZM633.3 1377.62H643.78V1388.11H633.3ZM916.28 1377.62H926.76V1388.11H916.28ZM937.24 1377.62H958.2V1388.11H937.24ZM863.87 1388.11H874.35V1398.6H863.87ZM916.28 1388.11H926.76V1398.6H916.28ZM937.24 1388.11H947.72V1398.6H937.24Z"/>
<path fill="#FFFF00" d="M958.2 454.37H968.68V464.87H958.2ZM979.16 454.37H989.64V464.87H979.16ZM402.73 464.87H423.69V475.36H402.73ZM402.73 475.36H423.69V485.85H402.73ZM476.09 485.85H486.57V496.34H476.09ZM947.72 485.85H958.2V496.34H947.72ZM968.68 485.85H989.64V496.34H968.68ZM580.9 496.34H591.38V506.83H580.9ZM497.05 506.83H507.53V517.32H497.05ZM350.32 517.32H371.28V527.81H350.32ZM518.01 517.32H549.45V527.81H518.01ZM350.32 527.81H371.28V538.31H350.32ZM842.91 538.31H853.39V548.8H842.91ZM895.32 538.31H905.8V548.8H895.32ZM497.05 548.8H507.53V559.29H497.05ZM497.05 559.29H507.53V569.78H497.05ZM559.94 569.78H580.9V580.27H559.94ZM497.05 580.27H507.53V590.76H497.05ZM518.01 580.27H528.49V590.76H518.01ZM549.45 580.27H559.94V590.76H549.45ZM371.28 590.76H381.76V601.25H371.28ZM518.01 590.76H528.49V601.25H518.01ZM559.94 590.76H580.9V601.25H559.94ZM958.2 590.76H989.64V601.25H958.2ZM1188.77 590.76H1199.25V601.25H1188.77ZM1220.22 590.76H1230.7V601.25H1220.22ZM538.97 601.25H549.45V611.75H538.97ZM392.25 611.75H402.73V622.24H392.25ZM434.17 611.75H455.13V622.24H434.17ZM465.61 611.75H476.09V622.24H465.61ZM884.84 611.75H895.32V622.24H884.84ZM402.73 632.73H413.21V643.22H402.73ZM465.61 632.73H486.57V643.22H465.61ZM402.73 643.22H413.21V653.71H402.73ZM717.15 643.22H727.63V653.71H717.15ZM916.28 643.22H926.76V653.71H916.28ZM937.24 643.22H947.72V653.71H937.24ZM402.73 653.71H413.21V664.2H402.73ZM486.57 653.71H497.05V664.2H486.57ZM601.86 653.71H612.34V664.2H601.86ZM465.61 664.2H476.09V674.69H465.61ZM916.28 664.2H926.76V674.69H916.28ZM937.24 664.2H947.72V674.69H937.24ZM455.13 674.69H465.61V685.18H455.13ZM476.09 674.69H486.57V685.18H476.09ZM601.86 674.69H612.34V685.18H601.86ZM916.28 674.69H926.76V685.18H916.28ZM937.24 674.69H947.72V685.18H937.24ZM455.13 685.18H465.61V695.68H455.13ZM476.09 685.18H486.57V695.68H476.09ZM601.86 685.18H612.34V695.68H601.86ZM937.24 685.18H947.72V695.68H937.24ZM381.76 695.68H392.25V706.17H381.76ZM654.26 695.68H664.74V706.17H654.26ZM748.59 695.68H780.03V706.17H748.59ZM643.78 706.17H654.26V716.66H643.78ZM538.97 716.66H549.45V727.15H538.97ZM559.94 716.66H580.9V727.15H559.94ZM717.15 716.66H727.63V727.15H717.15ZM748.59 727.15H759.07V737.64H748.59ZM780.03 727.15H790.51V737.64H780.03ZM1073.49 737.64H1083.97V748.13H1073.49ZM1094.45 737.64H1104.93V748.13H1094.45ZM1199.25 737.64H1230.7V748.13H1199.25ZM1000.12 748.13H1010.6V758.62H1000.12ZM1073.49 748.13H1083.97V758.62H1073.49ZM1167.81 748.13H1178.29V758.62H1167.81ZM591.38 758.62H601.86V769.12H591.38ZM1052.53 758.62H1063.01V769.12H1052.53ZM580.9 769.12H591.38V779.61H580.9ZM769.55 769.12H780.03V779.61H769.55ZM1031.56 769.12H1042.05V779.61H1031.56ZM769.55 790.1H780.03V800.59H769.55ZM1052.53 790.1H1063.01V800.59H1052.53ZM780.03 800.59H790.51V811.08H780.03ZM1031.56 800.59H1042.05V811.08H1031.56ZM528.49 832.06H538.97V842.56H528.49ZM601.86 832.06H612.34V842.56H601.86ZM759.07 832.06H769.55V842.56H759.07ZM874.35 832.06H884.84V842.56H874.35ZM905.8 832.06H916.28V842.56H905.8ZM748.59 842.56H759.07V853.05H748.59ZM832.43 842.56H842.91V853.05H832.43ZM884.84 842.56H895.32V853.05H884.84ZM916.28 842.56H947.72V853.05H916.28ZM759.07 853.05H769.55V863.54H759.07ZM916.28 853.05H947.72V863.54H916.28ZM580.9 863.54H591.38V874.03H580.9ZM612.34 863.54H622.82V874.03H612.34ZM727.63 863.54H738.11V874.03H727.63ZM874.35 863.54H884.84V874.03H874.35ZM580.9 874.03H591.38V884.52H580.9ZM717.15 874.03H727.63V884.52H717.15ZM738.11 874.03H748.59V884.52H738.11ZM874.35 874.03H884.84V884.52H874.35ZM580.9 884.52H591.38V895.01H580.9ZM654.26 884.52H664.74V895.01H654.26ZM675.22 884.52H685.7V895.01H675.22ZM895.32 884.52H905.8V895.01H895.32ZM612.34 895.01H622.82V905.5H612.34ZM685.7 895.01H696.18V905.5H685.7ZM821.95 895.01H832.43V905.5H821.95ZM853.39 895.01H874.35V905.5H853.39ZM863.87 916H874.35V926.49H863.87ZM780.03 936.98H790.51V947.47H780.03ZM905.8 936.98H916.28V947.47H905.8ZM1157.33 936.98H1167.81V947.47H1157.33ZM1230.7 936.98H1241.18V947.47H1230.7ZM1251.66 936.98H1283.1V947.47H1251.66ZM727.63 947.47H738.11V957.96H727.63ZM1115.41 947.47H1125.89V957.96H1115.41ZM1157.33 947.47H1167.81V957.96H1157.33ZM1230.7 947.47H1241.18V957.96H1230.7ZM1251.66 947.47H1283.1V957.96H1251.66ZM423.69 957.96H434.17V968.45H423.69ZM874.35 957.96H884.84V968.45H874.35ZM1000.12 957.96H1010.6V968.45H1000.12ZM1031.56 957.96H1042.05V968.45H1031.56ZM780.03 968.45H790.51V978.94H780.03ZM1115.41 968.45H1125.89V978.94H1115.41ZM1251.66 968.45H1283.1V978.94H1251.66ZM780.03 978.94H790.51V989.44H780.03ZM800.99 978.94H811.47V989.44H800.99ZM1115.41 978.94H1125.89V989.44H1115.41ZM1157.33 978.94H1167.81V989.44H1157.33ZM1251.66 978.94H1272.62V989.44H1251.66ZM717.15 989.44H727.63V999.93H717.15ZM748.59 989.44H769.55V999.93H748.59ZM842.91 989.44H853.39V999.93H842.91ZM905.8 989.44H916.28V999.93H905.8ZM497.05 999.93H507.53V1010.42H497.05ZM727.63 999.93H738.11V1010.42H727.63ZM423.69 1010.42H434.17V1020.91H423.69ZM769.55 1010.42H780.03V1020.91H769.55ZM1073.49 1010.42H1083.97V1020.91H1073.49ZM1094.45 1010.42H1104.93V1020.91H1094.45ZM1178.29 1010.42H1188.77V1020.91H1178.29ZM717.15 1020.91H727.63V1031.4H717.15ZM821.95 1020.91H832.43V1031.4H821.95ZM874.35 1020.91H884.84V1031.4H874.35ZM528.49 1031.4H538.97V1041.89H528.49ZM549.45 1031.4H570.42V1041.89H549.45ZM727.63 1031.4H748.59V1041.89H727.63ZM1157.33 1031.4H1167.81V1041.89H1157.33ZM1230.7 1031.4H1241.18V1041.89H1230.7ZM727.63 1041.89H748.59V1052.38H727.63ZM1115.41 1041.89H1125.89V1052.38H1115.41ZM1272.62 1041.89H1283.1V1052.38H1272.62ZM528.49 1052.38H538.97V1062.88H528.49ZM549.45 1052.38H580.9V1062.88H549.45ZM727.63 1052.38H748.59V1062.88H727.63ZM1157.33 1052.38H1167.81V1062.88H1157.33ZM1230.7 1052.38H1241.18V1062.88H1230.7ZM371.28 1062.88H381.76V1073.37H371.28ZM1010.6 1062.88H1021.08V1073.37H1010.6ZM1052.53 1062.88H1063.01V1073.37H1052.53ZM1073.49 1062.88H1094.45V1073.37H1073.49ZM1104.93 1062.88H1115.41V1073.37H1104.93ZM1209.74 1062.88H1230.7V1073.37H1209.74ZM339.84 1073.37H350.32V1083.86H339.84ZM476.09 1073.37H486.57V1083.86H476.09ZM979.16 1073.37H989.64V1083.86H979.16ZM1021.08 1073.37H1031.56V1083.86H1021.08ZM1073.49 1073.37H1083.97V1083.86H1073.49ZM1104.93 1073.37H1115.41V1083.86H1104.93ZM1230.7 1073.37H1241.18V1083.86H1230.7ZM1251.66 1073.37H1283.1V1083.86H1251.66ZM371.28 1083.86H381.76V1094.35H371.28ZM476.09 1083.86H486.57V1094.35H476.09ZM979.16 1083.86H989.64V1094.35H979.16ZM1021.08 1083.86H1031.56V1094.35H1021.08ZM1125.89 1083.86H1136.37V1094.35H1125.89ZM1230.7 1083.86H1241.18V1094.35H1230.7ZM1272.62 1083.86H1283.1V1094.35H1272.62ZM339.84 1094.35H350.32V1104.84H339.84ZM371.28 1094.35H381.76V1104.84H371.28ZM476.09 1094.35H486.57V1104.84H476.09ZM958.2 1094.35H979.16V1104.84H958.2ZM1010.6 1094.35H1021.08V1104.84H1010.6ZM1063.01 1094.35H1073.49V1104.84H1063.01ZM1167.81 1094.35H1178.29V1104.84H1167.81ZM1230.7 1094.35H1262.14V1104.84H1230.7ZM1272.62 1094.35H1283.1V1104.84H1272.62ZM1031.56 1104.84H1042.05V1115.33H1031.56ZM633.3 1115.33H643.78V1125.82H633.3ZM842.91 1115.33H853.39V1125.82H842.91ZM1104.93 1115.33H1125.89V1125.82H1104.93ZM947.72 1125.82H958.2V1136.32H947.72ZM979.16 1125.82H989.64V1136.32H979.16ZM958.2 1136.32H979.16V1146.81H958.2ZM1157.33 1136.32H1167.81V1146.81H1157.33ZM1230.7 1136.32H1251.66V1146.81H1230.7ZM654.26 1146.81H664.74V1157.3H654.26ZM685.7 1146.81H696.18V1157.3H685.7ZM842.91 1146.81H853.39V1157.3H842.91ZM989.64 1146.81H1000.12V1157.3H989.64ZM643.78 1167.79H654.26V1178.28H643.78ZM675.22 1167.79H685.7V1178.28H675.22ZM947.72 1167.79H958.2V1178.28H947.72ZM979.16 1178.28H989.64V1188.77H979.16ZM1136.37 1178.28H1146.85V1188.77H1136.37ZM622.82 1188.77H643.78V1199.26H622.82ZM895.32 1188.77H905.8V1199.26H895.32ZM947.72 1188.77H968.68V1199.26H947.72ZM947.72 1199.26H958.2V1209.75H947.72ZM622.82 1209.75H633.3V1220.25H622.82ZM895.32 1209.75H905.8V1220.25H895.32ZM947.72 1220.25H968.68V1230.74H947.72ZM1000.12 1220.25H1010.6V1230.74H1000.12ZM1136.37 1220.25H1146.85V1230.74H1136.37ZM832.43 1230.74H842.91V1241.23H832.43ZM853.39 1230.74H874.35V1241.23H853.39ZM926.76 1230.74H937.24V1241.23H926.76ZM1000.12 1230.74H1010.6V1241.23H1000.12ZM1136.37 1230.74H1146.85V1241.23H1136.37ZM968.68 1241.23H979.16V1251.72H968.68ZM1063.01 1251.72H1073.49V1262.21H1063.01ZM1104.93 1251.72H1125.89V1262.21H1104.93ZM821.95 1272.7H842.91V1283.19H821.95ZM863.87 1272.7H874.35V1283.19H863.87ZM916.28 1272.7H926.76V1283.19H916.28ZM937.24 1272.7H947.72V1283.19H937.24ZM1021.08 1272.7H1031.56V1283.19H1021.08ZM633.3 1283.19H643.78V1293.69H633.3ZM979.16 1283.19H989.64V1293.69H979.16ZM895.32 1293.69H905.8V1304.18H895.32ZM476.09 1304.18H486.57V1314.67H476.09ZM622.82 1314.67H633.3V1325.16H622.82ZM622.82 1325.16H633.3V1335.65H622.82ZM947.72 1325.16H958.2V1335.65H947.72ZM476.09 1335.65H486.57V1346.14H476.09ZM622.82 1335.65H633.3V1346.14H622.82ZM947.72 1335.65H958.2V1346.14H947.72ZM821.95 1346.14H842.91V1356.63H821.95ZM916.28 1346.14H926.76V1356.63H916.28ZM937.24 1346.14H947.72V1356.63H937.24ZM958.2 1346.14H989.64V1356.63H958.2ZM1021.08 1346.14H1031.56V1356.63H1021.08ZM979.16 1356.63H989.64V1367.13H979.16ZM1021.08 1356.63H1031.56V1367.13H1021.08ZM821.95 1367.13H842.91V1377.62H821.95ZM853.39 1367.13H874.35V1377.62H853.39ZM958.2 1367.13H968.68V1377.62H958.2ZM979.16 1367.13H989.64V1377.62H979.16ZM821.95 1377.62H842.91V1388.11H821.95ZM853.39 1377.62H874.35V1388.11H853.39ZM958.2 1377.62H968.68V1388.11H958.2ZM821.95 1388.11H842.91V1398.6H821.95ZM853.39 1388.11H863.87V1398.6H853.39ZM926.76 1388.11H937.24V1398.6H926.76ZM958.2 1388.11H989.64V1398.6H958.2Z"/>
<path fill="#FFDF00" d="M371.28 454.37H381.76V464.87H371.28ZM392.25 454.37H402.73V464.87H392.25ZM989.64 454.37H1000.12V464.87H989.64ZM423.69 464.87H444.65V475.36H423.69ZM455.13 464.87H465.61V475.36H455.13ZM423.69 475.36H434.17V485.85H423.69ZM455.13 475.36H465.61V485.85H455.13ZM507.53 475.36H518.01V485.85H507.53ZM580.9 475.36H591.38V485.85H580.9ZM339.84 485.85H350.32V496.34H339.84ZM413.21 485.85H423.69V496.34H413.21ZM497.05 485.85H507.53V496.34H497.05ZM580.9 485.85H591.38V496.34H580.9ZM434.17 496.34H444.65V506.83H434.17ZM947.72 496.34H958.2V506.83H947.72ZM1146.85 496.34H1157.33V506.83H1146.85ZM339.84 506.83H350.32V517.32H339.84ZM423.69 506.83H434.17V517.32H423.69ZM476.09 506.83H486.57V517.32H476.09ZM580.9 506.83H591.38V517.32H580.9ZM979.16 506.83H1000.12V517.32H979.16ZM371.28 527.81H381.76V538.31H371.28ZM507.53 527.81H518.01V538.31H507.53ZM905.8 527.81H916.28V538.31H905.8ZM926.76 527.81H937.24V538.31H926.76ZM350.32 538.31H371.28V548.8H350.32ZM392.25 538.31H402.73V548.8H392.25ZM884.84 538.31H895.32V548.8H884.84ZM916.28 538.31H926.76V548.8H916.28ZM937.24 538.31H947.72V548.8H937.24ZM350.32 548.8H360.8V559.29H350.32ZM381.76 548.8H392.25V559.29H381.76ZM350.32 569.78H371.28V580.27H350.32ZM559.94 580.27H580.9V590.76H559.94ZM392.25 590.76H402.73V601.25H392.25ZM549.45 590.76H559.94V601.25H549.45ZM1063.01 590.76H1073.49V601.25H1063.01ZM1094.45 590.76H1104.93V601.25H1094.45ZM1178.29 590.76H1188.77V601.25H1178.29ZM1199.25 590.76H1220.22V601.25H1199.25ZM559.94 601.25H580.9V611.75H559.94ZM371.28 611.75H381.76V622.24H371.28ZM528.49 611.75H538.97V622.24H528.49ZM360.8 622.24H371.28V632.73H360.8ZM413.21 622.24H423.69V632.73H413.21ZM497.05 643.22H507.53V653.71H497.05ZM476.09 664.2H486.57V674.69H476.09ZM601.86 664.2H612.34V674.69H601.86ZM717.15 664.2H727.63V674.69H717.15ZM465.61 674.69H476.09V685.18H465.61ZM486.57 674.69H497.05V685.18H486.57ZM717.15 674.69H727.63V685.18H717.15ZM465.61 685.18H476.09V695.68H465.61ZM486.57 685.18H497.05V695.68H486.57ZM717.15 685.18H727.63V695.68H717.15ZM916.28 685.18H926.76V695.68H916.28ZM360.8 695.68H381.76V706.17H360.8ZM392.25 695.68H402.73V706.17H392.25ZM800.99 695.68H811.47V706.17H800.99ZM612.34 706.17H633.3V716.66H612.34ZM769.55 706.17H780.03V716.66H769.55ZM549.45 716.66H559.94V727.15H549.45ZM748.59 716.66H759.07V727.15H748.59ZM769.55 716.66H780.03V727.15H769.55ZM591.38 727.15H601.86V737.64H591.38ZM591.38 737.64H601.86V748.13H591.38ZM759.07 737.64H769.55V748.13H759.07ZM1000.12 737.64H1010.6V748.13H1000.12ZM1188.77 737.64H1199.25V748.13H1188.77ZM1199.25 748.13H1230.7V758.62H1199.25ZM759.07 758.62H769.55V769.12H759.07ZM790.51 758.62H811.47V769.12H790.51ZM748.59 769.12H759.07V779.61H748.59ZM717.15 779.61H727.63V790.1H717.15ZM738.11 779.61H748.59V790.1H738.11ZM874.35 779.61H884.84V790.1H874.35ZM1031.56 790.1H1042.05V800.59H1031.56ZM769.55 800.59H780.03V811.08H769.55ZM769.55 811.08H780.03V821.57H769.55ZM1031.56 811.08H1042.05V821.57H1031.56ZM759.07 821.57H769.55V832.06H759.07ZM780.03 821.57H790.51V832.06H780.03ZM874.35 821.57H884.84V832.06H874.35ZM549.45 832.06H580.9V842.56H549.45ZM664.74 832.06H675.22V842.56H664.74ZM769.55 832.06H790.51V842.56H769.55ZM895.32 832.06H905.8V842.56H895.32ZM759.07 842.56H769.55V853.05H759.07ZM664.74 853.05H675.22V863.54H664.74ZM821.95 853.05H832.43V863.54H821.95ZM601.86 863.54H612.34V874.03H601.86ZM654.26 863.54H664.74V874.03H654.26ZM622.82 874.03H633.3V884.52H622.82ZM643.78 874.03H654.26V884.52H643.78ZM706.66 874.03H717.15V884.52H706.66ZM727.63 874.03H738.11V884.52H727.63ZM591.38 884.52H612.34V895.01H591.38ZM685.7 884.52H706.66V895.01H685.7ZM717.15 884.52H727.63V895.01H717.15ZM821.95 884.52H832.43V895.01H821.95ZM706.66 895.01H727.63V905.5H706.66ZM874.35 895.01H884.84V905.5H874.35ZM643.78 905.5H654.26V916H643.78ZM821.95 905.5H832.43V916H821.95ZM863.87 905.5H874.35V916H863.87ZM580.9 916H591.38V926.49H580.9ZM643.78 916H654.26V926.49H643.78ZM821.95 916H832.43V926.49H821.95ZM1115.41 926.49H1125.89V936.98H1115.41ZM738.11 936.98H748.59V947.47H738.11ZM769.55 936.98H780.03V947.47H769.55ZM790.51 936.98H811.47V947.47H790.51ZM842.91 936.98H853.39V947.47H842.91ZM884.84 936.98H895.32V947.47H884.84ZM842.91 947.47H853.39V957.96H842.91ZM821.95 957.96H842.91V968.45H821.95ZM1042.05 957.96H1052.53V968.45H1042.05ZM1073.49 957.96H1094.45V968.45H1073.49ZM1146.85 957.96H1157.33V968.45H1146.85ZM1157.33 968.45H1167.81V978.94H1157.33ZM1230.7 968.45H1241.18V978.94H1230.7ZM790.51 978.94H800.99V989.44H790.51ZM1230.7 978.94H1241.18V989.44H1230.7ZM664.74 989.44H675.22V999.93H664.74ZM706.66 989.44H717.15V999.93H706.66ZM780.03 989.44H790.51V999.93H780.03ZM423.69 999.93H434.17V1010.42H423.69ZM821.95 999.93H832.43V1010.42H821.95ZM717.15 1010.42H727.63V1020.91H717.15ZM1199.25 1010.42H1209.74V1020.91H1199.25ZM1241.18 1010.42H1251.66V1020.91H1241.18ZM413.21 1020.91H423.69V1031.4H413.21ZM1157.33 1020.91H1167.81V1031.4H1157.33ZM1230.7 1020.91H1241.18V1031.4H1230.7ZM1251.66 1020.91H1283.1V1031.4H1251.66ZM423.69 1031.4H434.17V1041.89H423.69ZM570.42 1031.4H580.9V1041.89H570.42ZM413.21 1041.89H423.69V1052.38H413.21ZM1157.33 1041.89H1167.81V1052.38H1157.33ZM1230.7 1041.89H1241.18V1052.38H1230.7ZM1251.66 1041.89H1272.62V1052.38H1251.66ZM423.69 1052.38H434.17V1062.88H423.69ZM381.76 1062.88H392.25V1073.37H381.76ZM989.64 1062.88H1000.12V1073.37H989.64ZM1146.85 1062.88H1157.33V1073.37H1146.85ZM1010.6 1073.37H1021.08V1083.86H1010.6ZM1083.97 1073.37H1094.45V1083.86H1083.97ZM1178.29 1073.37H1188.77V1083.86H1178.29ZM1209.74 1073.37H1230.7V1083.86H1209.74ZM1010.6 1083.86H1021.08V1094.35H1010.6ZM1073.49 1083.86H1083.97V1094.35H1073.49ZM1104.93 1083.86H1115.41V1094.35H1104.93ZM1188.77 1083.86H1199.25V1094.35H1188.77ZM1262.14 1083.86H1272.62V1094.35H1262.14ZM392.25 1094.35H402.73V1104.84H392.25ZM1094.45 1094.35H1104.93V1104.84H1094.45ZM1178.29 1094.35H1199.25V1104.84H1178.29ZM1262.14 1094.35H1272.62V1104.84H1262.14ZM339.84 1104.84H350.32V1115.33H339.84ZM392.25 1104.84H402.73V1115.33H392.25ZM947.72 1104.84H958.2V1115.33H947.72ZM1115.41 1104.84H1125.89V1115.33H1115.41ZM622.82 1115.33H633.3V1125.82H622.82ZM1031.56 1115.33H1052.53V1125.82H1031.56ZM1146.85 1115.33H1167.81V1125.82H1146.85ZM958.2 1125.82H979.16V1136.32H958.2ZM1052.53 1125.82H1063.01V1136.32H1052.53ZM1157.33 1125.82H1178.29V1136.32H1157.33ZM1230.7 1125.82H1241.18V1136.32H1230.7ZM1272.62 1136.32H1283.1V1146.81H1272.62ZM675.22 1146.81H685.7V1157.3H675.22ZM696.18 1146.81H706.66V1157.3H696.18ZM1000.12 1146.81H1010.6V1157.3H1000.12ZM1125.89 1146.81H1136.37V1157.3H1125.89ZM842.91 1157.3H853.39V1167.79H842.91ZM1000.12 1157.3H1010.6V1167.79H1000.12ZM1063.01 1157.3H1073.49V1167.79H1063.01ZM1115.41 1157.3H1125.89V1167.79H1115.41ZM1136.37 1157.3H1146.85V1167.79H1136.37ZM1010.6 1167.79H1021.08V1178.28H1010.6ZM476.09 1178.28H486.57V1188.77H476.09ZM1042.05 1178.28H1052.53V1188.77H1042.05ZM1157.33 1178.28H1178.29V1188.77H1157.33ZM1230.7 1178.28H1241.18V1188.77H1230.7ZM842.91 1188.77H853.39V1199.26H842.91ZM968.68 1188.77H979.16V1199.26H968.68ZM842.91 1199.26H853.39V1209.75H842.91ZM958.2 1199.26H968.68V1209.75H958.2ZM476.09 1209.75H486.57V1220.25H476.09ZM979.16 1209.75H989.64V1220.25H979.16ZM968.68 1220.25H979.16V1230.74H968.68ZM1157.33 1220.25H1178.29V1230.74H1157.33ZM1230.7 1220.25H1241.18V1230.74H1230.7ZM811.47 1230.74H821.95V1241.23H811.47ZM989.64 1230.74H1000.12V1241.23H989.64ZM1042.05 1230.74H1052.53V1241.23H1042.05ZM1031.56 1241.23H1042.05V1251.72H1031.56ZM1042.05 1251.72H1052.53V1262.21H1042.05ZM381.76 1262.21H392.25V1272.7H381.76ZM842.91 1262.21H853.39V1272.7H842.91ZM947.72 1262.21H958.2V1272.7H947.72ZM1000.12 1262.21H1010.6V1272.7H1000.12ZM853.39 1272.7H863.87V1283.19H853.39ZM905.8 1272.7H916.28V1283.19H905.8ZM926.76 1272.7H937.24V1283.19H926.76ZM1000.12 1272.7H1021.08V1283.19H1000.12ZM1063.01 1272.7H1073.49V1283.19H1063.01ZM1104.93 1272.7H1115.41V1283.19H1104.93ZM1010.6 1283.19H1021.08V1293.69H1010.6ZM1063.01 1283.19H1073.49V1293.69H1063.01ZM1104.93 1283.19H1115.41V1293.69H1104.93ZM476.09 1293.69H486.57V1304.18H476.09ZM958.2 1293.69H968.68V1304.18H958.2ZM979.16 1293.69H989.64V1304.18H979.16ZM622.82 1304.18H633.3V1314.67H622.82ZM968.68 1304.18H989.64V1314.67H968.68ZM476.09 1314.67H486.57V1325.16H476.09ZM633.3 1314.67H643.78V1325.16H633.3ZM895.32 1314.67H905.8V1325.16H895.32ZM476.09 1325.16H486.57V1335.65H476.09ZM633.3 1325.16H643.78V1335.65H633.3ZM958.2 1325.16H968.68V1335.65H958.2ZM633.3 1335.65H643.78V1346.14H633.3ZM958.2 1335.65H968.68V1346.14H958.2ZM853.39 1346.14H874.35V1356.63H853.39ZM905.8 1346.14H916.28V1356.63H905.8ZM926.76 1346.14H937.24V1356.63H926.76ZM1010.6 1346.14H1021.08V1356.63H1010.6ZM1063.01 1346.14H1073.49V1356.63H1063.01ZM1104.93 1346.14H1115.41V1356.63H1104.93ZM895.32 1356.63H905.8V1367.13H895.32ZM905.8 1367.13H916.28V1377.62H905.8ZM926.76 1367.13H937.24V1377.62H926.76ZM905.8 1377.62H916.28V1388.11H905.8ZM926.76 1377.62H937.24V1388.11H926.76ZM968.68 1377.62H989.64V1388.11H968.68ZM905.8 1388.11H916.28V1398.6H905.8ZM1021.08 1388.11H1031.56V1398.6H1021.08Z"/>
<path fill="#FFBF00" d="M947.72 443.88H958.2V454.37H947.72ZM507.53 464.87H518.01V475.36H507.53ZM381.76 475.36H392.25V485.85H381.76ZM402.73 485.85H413.21V496.34H402.73ZM958.2 485.85H968.68V496.34H958.2ZM360.8 496.34H371.28V506.83H360.8ZM444.65 496.34H455.13V506.83H444.65ZM465.61 496.34H486.57V506.83H465.61ZM402.73 506.83H413.21V517.32H402.73ZM507.53 506.83H518.01V517.32H507.53ZM947.72 506.83H958.2V517.32H947.72ZM968.68 506.83H979.16V517.32H968.68ZM371.28 517.32H381.76V527.81H371.28ZM392.25 517.32H402.73V527.81H392.25ZM423.69 517.32H434.17V527.81H423.69ZM549.45 517.32H559.94V527.81H549.45ZM402.73 538.31H413.21V548.8H402.73ZM905.8 538.31H916.28V548.8H905.8ZM381.76 559.29H392.25V569.78H381.76ZM381.76 580.27H392.25V590.76H381.76ZM381.76 590.76H392.25V601.25H381.76ZM538.97 590.76H549.45V601.25H538.97ZM549.45 601.25H559.94V611.75H549.45ZM518.01 611.75H528.49V622.24H518.01ZM350.32 622.24H360.8V632.73H350.32ZM392.25 622.24H402.73V632.73H392.25ZM884.84 622.24H895.32V632.73H884.84ZM497.05 632.73H507.53V643.22H497.05ZM476.09 653.71H486.57V664.2H476.09ZM402.73 664.2H413.21V674.69H402.73ZM486.57 664.2H497.05V674.69H486.57ZM675.22 695.68H706.66V706.17H675.22ZM790.51 695.68H800.99V706.17H790.51ZM601.86 706.17H612.34V716.66H601.86ZM654.26 706.17H664.74V716.66H654.26ZM748.59 706.17H769.55V716.66H748.59ZM591.38 716.66H601.86V727.15H591.38ZM633.3 727.15H654.26V737.64H633.3ZM769.55 727.15H780.03V737.64H769.55ZM1031.56 737.64H1042.05V748.13H1031.56ZM1178.29 737.64H1188.77V748.13H1178.29ZM612.34 748.13H622.82V758.62H612.34ZM664.74 748.13H675.22V758.62H664.74ZM1031.56 748.13H1042.05V758.62H1031.56ZM1188.77 748.13H1199.25V758.62H1188.77ZM612.34 758.62H622.82V769.12H612.34ZM591.38 769.12H601.86V779.61H591.38ZM800.99 769.12H811.47V779.61H800.99ZM633.3 779.61H643.78V790.1H633.3ZM706.66 779.61H717.15V790.1H706.66ZM727.63 779.61H738.11V790.1H727.63ZM580.9 790.1H591.38V800.59H580.9ZM748.59 790.1H759.07V800.59H748.59ZM790.51 790.1H811.47V800.59H790.51ZM580.9 800.59H591.38V811.08H580.9ZM800.99 800.59H811.47V811.08H800.99ZM580.9 811.08H591.38V821.57H580.9ZM800.99 811.08H811.47V821.57H800.99ZM664.74 821.57H675.22V832.06H664.74ZM853.39 832.06H874.35V842.56H853.39ZM926.76 832.06H947.72V842.56H926.76ZM664.74 842.56H675.22V853.05H664.74ZM821.95 842.56H832.43V853.05H821.95ZM895.32 842.56H905.8V853.05H895.32ZM895.32 853.05H905.8V863.54H895.32ZM591.38 863.54H601.86V874.03H591.38ZM675.22 863.54H685.7V874.03H675.22ZM591.38 874.03H601.86V884.52H591.38ZM612.34 884.52H622.82V895.01H612.34ZM580.9 905.5H591.38V916H580.9ZM675.22 905.5H685.7V916H675.22ZM654.26 916H664.74V926.49H654.26ZM675.22 916H706.66V926.49H675.22ZM727.63 936.98H738.11V947.47H727.63ZM874.35 936.98H884.84V947.47H874.35ZM916.28 936.98H926.76V947.47H916.28ZM874.35 947.47H895.32V957.96H874.35ZM905.8 947.47H916.28V957.96H905.8ZM863.87 957.96H874.35V968.45H863.87ZM884.84 957.96H895.32V968.45H884.84ZM1094.45 957.96H1104.93V968.45H1094.45ZM1115.41 957.96H1125.89V968.45H1115.41ZM1136.37 957.96H1146.85V968.45H1136.37ZM717.15 968.45H727.63V978.94H717.15ZM717.15 978.94H727.63V989.44H717.15ZM842.91 978.94H853.39V989.44H842.91ZM821.95 989.44H842.91V999.93H821.95ZM884.84 989.44H895.32V999.93H884.84ZM916.28 989.44H926.76V999.93H916.28ZM507.53 999.93H518.01V1010.42H507.53ZM832.43 999.93H853.39V1010.42H832.43ZM874.35 999.93H884.84V1010.42H874.35ZM727.63 1010.42H748.59V1020.91H727.63ZM1115.41 1010.42H1136.37V1020.91H1115.41ZM1209.74 1010.42H1230.7V1020.91H1209.74ZM423.69 1020.91H434.17V1031.4H423.69ZM832.43 1020.91H842.91V1031.4H832.43ZM821.95 1031.4H832.43V1041.89H821.95ZM874.35 1031.4H884.84V1041.89H874.35ZM717.15 1041.89H727.63V1052.38H717.15ZM717.15 1052.38H727.63V1062.88H717.15ZM329.36 1062.88H339.84V1073.37H329.36ZM392.25 1062.88H402.73V1073.37H392.25ZM1063.01 1062.88H1073.49V1073.37H1063.01ZM1178.29 1062.88H1188.77V1073.37H1178.29ZM1199.25 1062.88H1209.74V1073.37H1199.25ZM371.28 1073.37H381.76V1083.86H371.28ZM1063.01 1073.37H1073.49V1083.86H1063.01ZM1199.25 1073.37H1209.74V1083.86H1199.25ZM392.25 1083.86H402.73V1094.35H392.25ZM1083.97 1083.86H1094.45V1094.35H1083.97ZM1251.66 1083.86H1262.14V1094.35H1251.66ZM1199.25 1094.35H1230.7V1104.84H1199.25ZM1042.05 1104.84H1063.01V1115.33H1042.05ZM1104.93 1104.84H1115.41V1115.33H1104.93ZM1125.89 1104.84H1146.85V1115.33H1125.89ZM1167.81 1115.33H1178.29V1125.82H1167.81ZM1230.7 1115.33H1251.66V1125.82H1230.7ZM1272.62 1115.33H1283.1V1125.82H1272.62ZM1125.89 1125.82H1136.37V1136.32H1125.89ZM1241.18 1125.82H1251.66V1136.32H1241.18ZM1272.62 1125.82H1283.1V1136.32H1272.62ZM1125.89 1136.32H1136.37V1146.81H1125.89ZM1167.81 1136.32H1178.29V1146.81H1167.81ZM622.82 1146.81H643.78V1157.3H622.82ZM1042.05 1146.81H1052.53V1157.3H1042.05ZM1136.37 1146.81H1146.85V1157.3H1136.37ZM1157.33 1146.81H1167.81V1157.3H1157.33ZM989.64 1157.3H1000.12V1167.79H989.64ZM1031.56 1157.3H1042.05V1167.79H1031.56ZM1104.93 1157.3H1115.41V1167.79H1104.93ZM989.64 1167.79H1000.12V1178.28H989.64ZM1115.41 1167.79H1125.89V1178.28H1115.41ZM1136.37 1167.79H1146.85V1178.28H1136.37ZM1157.33 1167.79H1167.81V1178.28H1157.33ZM1230.7 1167.79H1241.18V1178.28H1230.7ZM947.72 1178.28H968.68V1188.77H947.72ZM1115.41 1178.28H1125.89V1188.77H1115.41ZM1241.18 1178.28H1251.66V1188.77H1241.18ZM1272.62 1178.28H1283.1V1188.77H1272.62ZM968.68 1199.26H979.16V1209.75H968.68ZM842.91 1209.75H853.39V1220.25H842.91ZM989.64 1220.25H1000.12V1230.74H989.64ZM1042.05 1220.25H1052.53V1230.74H1042.05ZM1115.41 1220.25H1125.89V1230.74H1115.41ZM1241.18 1220.25H1251.66V1230.74H1241.18ZM1272.62 1220.25H1283.1V1230.74H1272.62ZM842.91 1230.74H853.39V1241.23H842.91ZM895.32 1230.74H905.8V1241.23H895.32ZM1052.53 1230.74H1073.49V1241.23H1052.53ZM1104.93 1230.74H1115.41V1241.23H1104.93ZM1167.81 1230.74H1178.29V1241.23H1167.81ZM895.32 1241.23H905.8V1251.72H895.32ZM989.64 1241.23H1000.12V1251.72H989.64ZM1010.6 1241.23H1031.56V1251.72H1010.6ZM842.91 1251.72H853.39V1262.21H842.91ZM989.64 1251.72H1000.12V1262.21H989.64ZM1031.56 1251.72H1042.05V1262.21H1031.56ZM1052.53 1251.72H1063.01V1262.21H1052.53ZM1031.56 1272.7H1042.05V1283.19H1031.56ZM1052.53 1272.7H1063.01V1283.19H1052.53ZM1000.12 1283.19H1010.6V1293.69H1000.12ZM1021.08 1283.19H1031.56V1293.69H1021.08ZM1115.41 1283.19H1125.89V1293.69H1115.41ZM622.82 1293.69H633.3V1304.18H622.82ZM947.72 1293.69H958.2V1304.18H947.72ZM633.3 1304.18H643.78V1314.67H633.3ZM947.72 1314.67H968.68V1325.16H947.72ZM979.16 1314.67H989.64V1325.16H979.16ZM895.32 1325.16H905.8V1335.65H895.32ZM979.16 1325.16H989.64V1335.65H979.16ZM895.32 1335.65H905.8V1346.14H895.32ZM979.16 1335.65H989.64V1346.14H979.16ZM1000.12 1346.14H1010.6V1356.63H1000.12ZM1052.53 1346.14H1063.01V1356.63H1052.53ZM1000.12 1356.63H1021.08V1367.13H1000.12ZM1063.01 1356.63H1073.49V1367.13H1063.01ZM1104.93 1356.63H1115.41V1367.13H1104.93ZM968.68 1367.13H979.16V1377.62H968.68ZM1000.12 1388.11H1021.08V1398.6H1000.12ZM1063.01 1388.11H1073.49V1398.6H1063.01ZM1104.93 1388.11H1115.41V1398.6H1104.93Z"/>
<path fill="#FF9F00" d="M381.76 464.87H392.25V475.36H381.76ZM465.61 464.87H476.09V475.36H465.61ZM434.17 475.36H444.65V485.85H434.17ZM423.69 485.85H434.17V496.34H423.69ZM507.53 485.85H518.01V496.34H507.53ZM350.32 496.34H360.8V506.83H350.32ZM968.68 496.34H979.16V506.83H968.68ZM989.64 496.34H1000.12V506.83H989.64ZM434.17 517.32H444.65V527.81H434.17ZM559.94 517.32H580.9V527.81H559.94ZM434.17 527.81H444.65V538.31H434.17ZM455.13 527.81H465.61V538.31H455.13ZM371.28 538.31H381.76V548.8H371.28ZM507.53 538.31H518.01V548.8H507.53ZM926.76 538.31H937.24V548.8H926.76ZM360.8 548.8H371.28V559.29H360.8ZM402.73 548.8H423.69V559.29H402.73ZM507.53 548.8H518.01V559.29H507.53ZM413.21 569.78H423.69V580.27H413.21ZM350.32 580.27H360.8V590.76H350.32ZM989.64 590.76H1000.12V601.25H989.64ZM1146.85 590.76H1157.33V601.25H1146.85ZM518.01 601.25H528.49V611.75H518.01ZM507.53 611.75H518.01V622.24H507.53ZM538.97 611.75H549.45V622.24H538.97ZM371.28 622.24H381.76V632.73H371.28ZM423.69 622.24H444.65V632.73H423.69ZM497.05 622.24H507.53V632.73H497.05ZM486.57 632.73H497.05V643.22H486.57ZM884.84 632.73H895.32V643.22H884.84ZM497.05 653.71H507.53V664.2H497.05ZM884.84 653.71H895.32V664.2H884.84ZM402.73 674.69H413.21V685.18H402.73ZM402.73 685.18H413.21V695.68H402.73ZM664.74 695.68H675.22V706.17H664.74ZM675.22 706.17H685.7V716.66H675.22ZM790.51 706.17H811.47V716.66H790.51ZM790.51 716.66H811.47V727.15H790.51ZM1178.29 748.13H1188.77V758.62H1178.29ZM759.07 769.12H769.55V779.61H759.07ZM790.51 769.12H800.99V779.61H790.51ZM580.9 779.61H591.38V790.1H580.9ZM591.38 790.1H601.86V800.59H591.38ZM790.51 800.59H800.99V811.08H790.51ZM748.59 811.08H759.07V821.57H748.59ZM790.51 811.08H800.99V821.57H790.51ZM748.59 821.57H759.07V832.06H748.59ZM769.55 821.57H780.03V832.06H769.55ZM727.63 832.06H748.59V842.56H727.63ZM790.51 832.06H811.47V842.56H790.51ZM884.84 832.06H895.32V842.56H884.84ZM916.28 832.06H926.76V842.56H916.28ZM717.15 842.56H727.63V853.05H717.15ZM717.15 853.05H727.63V863.54H717.15ZM853.39 853.05H884.84V863.54H853.39ZM696.18 863.54H717.15V874.03H696.18ZM780.03 863.54H790.51V874.03H780.03ZM654.26 874.03H664.74V884.52H654.26ZM780.03 874.03H790.51V884.52H780.03ZM706.66 884.52H717.15V895.01H706.66ZM853.39 884.52H863.87V895.01H853.39ZM748.59 895.01H769.55V905.5H748.59ZM591.38 905.5H612.34V916H591.38ZM654.26 905.5H664.74V916H654.26ZM685.7 905.5H706.66V916H685.7ZM717.15 905.5H727.63V916H717.15ZM591.38 916H612.34V926.49H591.38ZM717.15 916H727.63V926.49H717.15ZM874.35 916H884.84V926.49H874.35ZM937.24 936.98H947.72V947.47H937.24ZM1125.89 957.96H1136.37V968.45H1125.89ZM1178.29 957.96H1199.25V968.45H1178.29ZM738.11 968.45H748.59V978.94H738.11ZM769.55 968.45H780.03V978.94H769.55ZM738.11 978.94H748.59V989.44H738.11ZM738.11 989.44H748.59V999.93H738.11ZM800.99 989.44H811.47V999.93H800.99ZM926.76 989.44H947.72V999.93H926.76ZM518.01 999.93H528.49V1010.42H518.01ZM538.97 999.93H549.45V1010.42H538.97ZM717.15 999.93H727.63V1010.42H717.15ZM1272.62 1010.42H1283.1V1020.91H1272.62ZM717.15 1031.4H727.63V1041.89H717.15ZM423.69 1041.89H434.17V1052.38H423.69ZM874.35 1041.89H884.84V1052.38H874.35ZM821.95 1052.38H832.43V1062.88H821.95ZM874.35 1052.38H884.84V1062.88H874.35ZM958.2 1062.88H979.16V1073.37H958.2ZM1021.08 1062.88H1031.56V1073.37H1021.08ZM1094.45 1062.88H1104.93V1073.37H1094.45ZM947.72 1073.37H958.2V1083.86H947.72ZM1094.45 1073.37H1104.93V1083.86H1094.45ZM1146.85 1073.37H1157.33V1083.86H1146.85ZM381.76 1083.86H392.25V1094.35H381.76ZM947.72 1083.86H958.2V1094.35H947.72ZM1178.29 1083.86H1188.77V1094.35H1178.29ZM1209.74 1083.86H1230.7V1094.35H1209.74ZM381.76 1104.84H392.25V1115.33H381.76ZM476.09 1104.84H486.57V1115.33H476.09ZM1010.6 1104.84H1031.56V1115.33H1010.6ZM1073.49 1104.84H1083.97V1115.33H1073.49ZM1157.33 1104.84H1167.81V1115.33H1157.33ZM1241.18 1104.84H1251.66V1115.33H1241.18ZM1083.97 1115.33H1104.93V1125.82H1083.97ZM1262.14 1115.33H1272.62V1125.82H1262.14ZM989.64 1125.82H1000.12V1136.32H989.64ZM1104.93 1125.82H1115.41V1136.32H1104.93ZM1188.77 1125.82H1199.25V1136.32H1188.77ZM1262.14 1125.82H1272.62V1136.32H1262.14ZM947.72 1136.32H958.2V1146.81H947.72ZM989.64 1136.32H1000.12V1146.81H989.64ZM1104.93 1136.32H1115.41V1146.81H1104.93ZM1262.14 1136.32H1272.62V1146.81H1262.14ZM1073.49 1146.81H1094.45V1157.3H1073.49ZM1230.7 1146.81H1251.66V1157.3H1230.7ZM1241.18 1167.79H1251.66V1178.28H1241.18ZM989.64 1188.77H1000.12V1199.26H989.64ZM1031.56 1188.77H1042.05V1199.26H1031.56ZM1136.37 1188.77H1146.85V1199.26H1136.37ZM1000.12 1199.26H1010.6V1209.75H1000.12ZM1031.56 1199.26H1042.05V1209.75H1031.56ZM1136.37 1199.26H1146.85V1209.75H1136.37ZM947.72 1209.75H968.68V1220.25H947.72ZM1000.12 1209.75H1010.6V1220.25H1000.12ZM1010.6 1220.25H1031.56V1230.74H1010.6ZM1262.14 1220.25H1272.62V1230.74H1262.14ZM1146.85 1230.74H1157.33V1241.23H1146.85ZM842.91 1241.23H853.39V1251.72H842.91ZM1136.37 1241.23H1146.85V1251.72H1136.37ZM1073.49 1251.72H1094.45V1262.21H1073.49ZM1125.89 1251.72H1136.37V1262.21H1125.89ZM476.09 1262.21H486.57V1272.7H476.09ZM958.2 1262.21H968.68V1272.7H958.2ZM1115.41 1262.21H1125.89V1272.7H1115.41ZM989.64 1272.7H1000.12V1283.19H989.64ZM633.3 1293.69H643.78V1304.18H633.3ZM842.91 1293.69H853.39V1304.18H842.91ZM968.68 1293.69H979.16V1304.18H968.68ZM842.91 1304.18H853.39V1314.67H842.91ZM1010.6 1304.18H1021.08V1314.67H1010.6ZM968.68 1325.16H979.16V1335.65H968.68ZM968.68 1335.65H979.16V1346.14H968.68ZM1031.56 1346.14H1042.05V1356.63H1031.56ZM989.64 1356.63H1000.12V1367.13H989.64ZM1031.56 1356.63H1042.05V1367.13H1031.56ZM1052.53 1356.63H1063.01V1367.13H1052.53ZM1000.12 1377.62H1031.56V1388.11H1000.12ZM1104.93 1377.62H1115.41V1388.11H1104.93ZM895.32 1388.11H905.8V1398.6H895.32Z"/>
<path fill="#FF8000" d="M381.76 454.37H392.25V464.87H381.76ZM360.8 464.87H371.28V475.36H360.8ZM444.65 464.87H455.13V475.36H444.65ZM350.32 475.36H360.8V485.85H350.32ZM465.61 475.36H476.09V485.85H465.61ZM339.84 496.34H350.32V506.83H339.84ZM958.2 496.34H968.68V506.83H958.2ZM979.16 496.34H989.64V506.83H979.16ZM434.17 506.83H444.65V517.32H434.17ZM455.13 506.83H465.61V517.32H455.13ZM958.2 506.83H968.68V517.32H958.2ZM455.13 517.32H465.61V527.81H455.13ZM392.25 548.8H402.73V559.29H392.25ZM350.32 559.29H360.8V569.78H350.32ZM392.25 569.78H413.21V580.27H392.25ZM360.8 580.27H371.28V590.76H360.8ZM528.49 601.25H538.97V611.75H528.49ZM559.94 611.75H570.42V622.24H559.94ZM518.01 622.24H528.49V632.73H518.01ZM507.53 632.73H518.01V643.22H507.53ZM486.57 643.22H497.05V653.71H486.57ZM497.05 674.69H507.53V685.18H497.05ZM633.3 716.66H654.26V727.15H633.3ZM759.07 716.66H769.55V727.15H759.07ZM622.82 727.15H633.3V737.64H622.82ZM675.22 727.15H706.66V737.64H675.22ZM759.07 727.15H769.55V737.64H759.07ZM800.99 727.15H811.47V737.64H800.99ZM612.34 737.64H622.82V748.13H612.34ZM664.74 737.64H675.22V748.13H664.74ZM601.86 748.13H612.34V758.62H601.86ZM643.78 748.13H664.74V758.62H643.78ZM601.86 758.62H612.34V769.12H601.86ZM633.3 758.62H643.78V769.12H633.3ZM633.3 769.12H643.78V779.61H633.3ZM622.82 779.61H633.3V790.1H622.82ZM612.34 790.1H622.82V800.59H612.34ZM759.07 790.1H769.55V800.59H759.07ZM612.34 800.59H622.82V811.08H612.34ZM748.59 800.59H759.07V811.08H748.59ZM612.34 811.08H622.82V821.57H612.34ZM790.51 821.57H811.47V832.06H790.51ZM769.55 842.56H780.03V853.05H769.55ZM853.39 842.56H884.84V853.05H853.39ZM769.55 853.05H780.03V863.54H769.55ZM685.7 863.54H696.18V874.03H685.7ZM759.07 863.54H780.03V874.03H759.07ZM601.86 874.03H622.82V884.52H601.86ZM675.22 874.03H685.7V884.52H675.22ZM748.59 874.03H759.07V884.52H748.59ZM727.63 884.52H759.07V895.01H727.63ZM706.66 905.5H717.15V916H706.66ZM874.35 905.5H884.84V916H874.35ZM612.34 916H622.82V926.49H612.34ZM706.66 916H717.15V926.49H706.66ZM863.87 936.98H874.35V947.47H863.87ZM895.32 936.98H905.8V947.47H895.32ZM926.76 936.98H937.24V947.47H926.76ZM916.28 947.47H926.76V957.96H916.28ZM937.24 947.47H947.72V957.96H937.24ZM853.39 957.96H863.87V968.45H853.39ZM937.24 957.96H947.72V968.45H937.24ZM727.63 968.45H738.11V978.94H727.63ZM842.91 968.45H853.39V978.94H842.91ZM727.63 978.94H738.11V989.44H727.63ZM821.95 978.94H832.43V989.44H821.95ZM905.8 978.94H916.28V989.44H905.8ZM727.63 989.44H738.11V999.93H727.63ZM790.51 989.44H800.99V999.93H790.51ZM821.95 1010.42H832.43V1020.91H821.95ZM1157.33 1010.42H1167.81V1020.91H1157.33ZM1230.7 1010.42H1241.18V1020.91H1230.7ZM1251.66 1010.42H1272.62V1020.91H1251.66ZM863.87 1020.91H874.35V1031.4H863.87ZM832.43 1031.4H842.91V1041.89H832.43ZM821.95 1041.89H832.43V1052.38H821.95ZM832.43 1052.38H853.39V1062.88H832.43ZM381.76 1073.37H402.73V1083.86H381.76ZM968.68 1073.37H979.16V1083.86H968.68ZM989.64 1073.37H1000.12V1083.86H989.64ZM958.2 1083.86H968.68V1094.35H958.2ZM1063.01 1083.86H1073.49V1094.35H1063.01ZM1146.85 1083.86H1157.33V1094.35H1146.85ZM1199.25 1083.86H1209.74V1094.35H1199.25ZM381.76 1094.35H392.25V1104.84H381.76ZM958.2 1104.84H968.68V1115.33H958.2ZM1063.01 1104.84H1073.49V1115.33H1063.01ZM1083.97 1104.84H1094.45V1115.33H1083.97ZM1167.81 1104.84H1178.29V1115.33H1167.81ZM1230.7 1104.84H1241.18V1115.33H1230.7ZM1052.53 1115.33H1063.01V1125.82H1052.53ZM1073.49 1115.33H1083.97V1125.82H1073.49ZM1125.89 1115.33H1136.37V1125.82H1125.89ZM1188.77 1115.33H1199.25V1125.82H1188.77ZM1073.49 1125.82H1083.97V1136.32H1073.49ZM1146.85 1125.82H1157.33V1136.32H1146.85ZM1251.66 1125.82H1262.14V1136.32H1251.66ZM1052.53 1136.32H1094.45V1146.81H1052.53ZM1251.66 1136.32H1262.14V1146.81H1251.66ZM1052.53 1146.81H1063.01V1157.3H1052.53ZM1094.45 1146.81H1104.93V1157.3H1094.45ZM1146.85 1146.81H1157.33V1157.3H1146.85ZM1052.53 1157.3H1063.01V1167.79H1052.53ZM1146.85 1157.3H1178.29V1167.79H1146.85ZM1000.12 1167.79H1010.6V1178.28H1000.12ZM1021.08 1167.79H1052.53V1178.28H1021.08ZM1167.81 1167.79H1178.29V1178.28H1167.81ZM1272.62 1167.79H1283.1V1178.28H1272.62ZM968.68 1178.28H979.16V1188.77H968.68ZM989.64 1178.28H1000.12V1188.77H989.64ZM1021.08 1178.28H1031.56V1188.77H1021.08ZM1125.89 1178.28H1136.37V1188.77H1125.89ZM1262.14 1178.28H1272.62V1188.77H1262.14ZM1000.12 1188.77H1031.56V1199.26H1000.12ZM1167.81 1188.77H1178.29V1199.26H1167.81ZM989.64 1199.26H1000.12V1209.75H989.64ZM1021.08 1199.26H1031.56V1209.75H1021.08ZM1031.56 1209.75H1042.05V1220.25H1031.56ZM1241.18 1230.74H1251.66V1241.23H1241.18ZM1000.12 1241.23H1010.6V1251.72H1000.12ZM1063.01 1241.23H1073.49V1251.72H1063.01ZM1146.85 1241.23H1157.33V1251.72H1146.85ZM1167.81 1241.23H1178.29V1251.72H1167.81ZM1241.18 1251.72H1251.66V1262.21H1241.18ZM968.68 1262.21H979.16V1272.7H968.68ZM1010.6 1262.21H1021.08V1272.7H1010.6ZM1031.56 1262.21H1052.53V1272.7H1031.56ZM1125.89 1262.21H1136.37V1272.7H1125.89ZM895.32 1272.7H905.8V1283.19H895.32ZM1042.05 1272.7H1052.53V1283.19H1042.05ZM989.64 1283.19H1000.12V1293.69H989.64ZM1042.05 1283.19H1063.01V1293.69H1042.05ZM1073.49 1283.19H1083.97V1293.69H1073.49ZM1125.89 1283.19H1136.37V1293.69H1125.89ZM1000.12 1304.18H1010.6V1314.67H1000.12ZM968.68 1314.67H979.16V1325.16H968.68ZM895.32 1346.14H905.8V1356.63H895.32ZM989.64 1346.14H1000.12V1356.63H989.64ZM1115.41 1356.63H1125.89V1367.13H1115.41ZM1136.37 1356.63H1146.85V1367.13H1136.37ZM895.32 1367.13H905.8V1377.62H895.32ZM1010.6 1367.13H1031.56V1377.62H1010.6ZM895.32 1377.62H905.8V1388.11H895.32ZM1063.01 1377.62H1073.49V1388.11H1063.01ZM1052.53 1388.11H1063.01V1398.6H1052.53Z"/>
<path fill="#FF6000" d="M371.28 464.87H381.76V475.36H371.28ZM392.25 464.87H402.73V475.36H392.25ZM392.25 475.36H402.73V485.85H392.25ZM444.65 475.36H455.13V485.85H444.65ZM350.32 485.85H360.8V496.34H350.32ZM455.13 485.85H465.61V496.34H455.13ZM350.32 506.83H371.28V517.32H350.32ZM444.65 506.83H455.13V517.32H444.65ZM465.61 506.83H476.09V517.32H465.61ZM444.65 517.32H455.13V527.81H444.65ZM507.53 517.32H518.01V527.81H507.53ZM465.61 527.81H476.09V538.31H465.61ZM434.17 538.31H444.65V548.8H434.17ZM455.13 538.31H465.61V548.8H455.13ZM423.69 548.8H434.17V559.29H423.69ZM455.13 548.8H465.61V559.29H455.13ZM360.8 559.29H371.28V569.78H360.8ZM392.25 559.29H413.21V569.78H392.25ZM507.53 559.29H518.01V569.78H507.53ZM371.28 569.78H381.76V580.27H371.28ZM423.69 569.78H444.65V580.27H423.69ZM507.53 569.78H518.01V580.27H507.53ZM392.25 580.27H402.73V590.76H392.25ZM413.21 580.27H423.69V590.76H413.21ZM549.45 611.75H559.94V622.24H549.45ZM570.42 611.75H580.9V622.24H570.42ZM402.73 622.24H413.21V632.73H402.73ZM444.65 622.24H465.61V632.73H444.65ZM528.49 622.24H549.45V632.73H528.49ZM507.53 643.22H518.01V653.71H507.53ZM884.84 643.22H895.32V653.71H884.84ZM507.53 653.71H518.01V664.2H507.53ZM497.05 664.2H507.53V674.69H497.05ZM497.05 685.18H507.53V695.68H497.05ZM664.74 706.17H675.22V716.66H664.74ZM685.7 706.17H706.66V716.66H685.7ZM622.82 716.66H633.3V727.15H622.82ZM664.74 716.66H696.18V727.15H664.74ZM654.26 727.15H675.22V737.64H654.26ZM790.51 727.15H800.99V737.64H790.51ZM601.86 737.64H612.34V748.13H601.86ZM1052.53 737.64H1063.01V748.13H1052.53ZM675.22 748.13H706.66V758.62H675.22ZM1052.53 748.13H1063.01V758.62H1052.53ZM664.74 758.62H675.22V769.12H664.74ZM612.34 769.12H622.82V779.61H612.34ZM591.38 779.61H622.82V790.1H591.38ZM643.78 779.61H654.26V790.1H643.78ZM601.86 790.1H612.34V800.59H601.86ZM633.3 790.1H643.78V800.59H633.3ZM591.38 800.59H612.34V811.08H591.38ZM633.3 800.59H643.78V811.08H633.3ZM759.07 800.59H769.55V811.08H759.07ZM591.38 811.08H601.86V821.57H591.38ZM633.3 811.08H643.78V821.57H633.3ZM759.07 811.08H769.55V821.57H759.07ZM780.03 853.05H811.47V863.54H780.03ZM685.7 874.03H706.66V884.52H685.7ZM769.55 874.03H780.03V884.52H769.55ZM759.07 884.52H769.55V895.01H759.07ZM780.03 884.52H790.51V895.01H780.03ZM863.87 884.52H874.35V895.01H863.87ZM738.11 895.01H748.59V905.5H738.11ZM769.55 895.01H780.03V905.5H769.55ZM612.34 905.5H622.82V916H612.34ZM738.11 905.5H748.59V916H738.11ZM738.11 916H748.59V926.49H738.11ZM853.39 936.98H863.87V947.47H853.39ZM853.39 947.47H874.35V957.96H853.39ZM895.32 947.47H905.8V957.96H895.32ZM926.76 947.47H937.24V957.96H926.76ZM916.28 957.96H926.76V968.45H916.28ZM1167.81 957.96H1178.29V968.45H1167.81ZM1199.25 957.96H1209.74V968.45H1199.25ZM1241.18 957.96H1251.66V968.45H1241.18ZM821.95 968.45H842.91V978.94H821.95ZM769.55 978.94H780.03V989.44H769.55ZM832.43 978.94H842.91V989.44H832.43ZM884.84 978.94H895.32V989.44H884.84ZM895.32 989.44H905.8V999.93H895.32ZM528.49 999.93H538.97V1010.42H528.49ZM863.87 999.93H874.35V1010.42H863.87ZM832.43 1010.42H842.91V1020.91H832.43ZM874.35 1010.42H884.84V1020.91H874.35ZM842.91 1031.4H853.39V1041.89H842.91ZM832.43 1041.89H842.91V1052.38H832.43ZM989.64 1083.86H1000.12V1094.35H989.64ZM1094.45 1083.86H1104.93V1094.35H1094.45ZM1146.85 1094.35H1157.33V1104.84H1146.85ZM968.68 1104.84H979.16V1115.33H968.68ZM1272.62 1104.84H1283.1V1115.33H1272.62ZM1178.29 1115.33H1188.77V1125.82H1178.29ZM1199.25 1115.33H1209.74V1125.82H1199.25ZM1251.66 1115.33H1262.14V1125.82H1251.66ZM1063.01 1125.82H1073.49V1136.32H1063.01ZM1083.97 1125.82H1094.45V1136.32H1083.97ZM1272.62 1146.81H1283.1V1157.3H1272.62ZM1125.89 1157.3H1136.37V1167.79H1125.89ZM622.82 1167.79H643.78V1178.28H622.82ZM1063.01 1167.79H1073.49V1178.28H1063.01ZM1125.89 1167.79H1136.37V1178.28H1125.89ZM1146.85 1167.79H1157.33V1178.28H1146.85ZM1262.14 1167.79H1272.62V1178.28H1262.14ZM1010.6 1178.28H1021.08V1188.77H1010.6ZM1052.53 1178.28H1063.01V1188.77H1052.53ZM1188.77 1178.28H1199.25V1188.77H1188.77ZM1146.85 1188.77H1167.81V1199.26H1146.85ZM1230.7 1188.77H1241.18V1199.26H1230.7ZM1010.6 1199.26H1021.08V1209.75H1010.6ZM1167.81 1199.26H1178.29V1209.75H1167.81ZM968.68 1209.75H979.16V1220.25H968.68ZM1136.37 1209.75H1146.85V1220.25H1136.37ZM1146.85 1220.25H1157.33V1230.74H1146.85ZM1188.77 1220.25H1199.25V1230.74H1188.77ZM1157.33 1230.74H1167.81V1241.23H1157.33ZM1188.77 1230.74H1199.25V1241.23H1188.77ZM1042.05 1241.23H1063.01V1251.72H1042.05ZM1094.45 1251.72H1104.93V1262.21H1094.45ZM1146.85 1251.72H1167.81V1262.21H1146.85ZM1230.7 1251.72H1241.18V1262.21H1230.7ZM979.16 1262.21H989.64V1272.7H979.16ZM1052.53 1262.21H1063.01V1272.7H1052.53ZM1073.49 1262.21H1083.97V1272.7H1073.49ZM1104.93 1262.21H1115.41V1272.7H1104.93ZM1136.37 1262.21H1146.85V1272.7H1136.37ZM1157.33 1262.21H1167.81V1272.7H1157.33ZM1230.7 1262.21H1251.66V1272.7H1230.7ZM1073.49 1272.7H1083.97V1283.19H1073.49ZM1115.41 1272.7H1125.89V1283.19H1115.41ZM1136.37 1272.7H1157.33V1283.19H1136.37ZM842.91 1283.19H853.39V1293.69H842.91ZM1083.97 1283.19H1094.45V1293.69H1083.97ZM1000.12 1293.69H1010.6V1304.18H1000.12ZM1063.01 1304.18H1073.49V1314.67H1063.01ZM1104.93 1304.18H1125.89V1314.67H1104.93ZM842.91 1314.67H853.39V1325.16H842.91ZM1000.12 1314.67H1010.6V1325.16H1000.12ZM1073.49 1346.14H1083.97V1356.63H1073.49ZM1136.37 1346.14H1157.33V1356.63H1136.37ZM842.91 1356.63H853.39V1367.13H842.91ZM1146.85 1356.63H1157.33V1367.13H1146.85ZM1000.12 1367.13H1010.6V1377.62H1000.12ZM1052.53 1377.62H1063.01V1388.11H1052.53ZM989.64 1388.11H1000.12V1398.6H989.64ZM1031.56 1388.11H1042.05V1398.6H1031.56Z"/>
<path fill="#FF4000" d="M371.28 475.36H381.76V485.85H371.28ZM360.8 485.85H371.28V496.34H360.8ZM444.65 485.85H455.13V496.34H444.65ZM465.61 485.85H476.09V496.34H465.61ZM465.61 517.32H476.09V527.81H465.61ZM371.28 559.29H381.76V569.78H371.28ZM371.28 580.27H381.76V590.76H371.28ZM402.73 580.27H413.21V590.76H402.73ZM507.53 580.27H518.01V590.76H507.53ZM465.61 622.24H476.09V632.73H465.61ZM884.84 664.2H895.32V674.69H884.84ZM884.84 674.69H895.32V685.18H884.84ZM884.84 685.18H895.32V695.68H884.84ZM654.26 716.66H664.74V727.15H654.26ZM696.18 716.66H706.66V727.15H696.18ZM643.78 737.64H664.74V748.13H643.78ZM675.22 737.64H706.66V748.13H675.22ZM622.82 758.62H633.3V769.12H622.82ZM675.22 758.62H685.7V769.12H675.22ZM601.86 769.12H612.34V779.61H601.86ZM622.82 769.12H633.3V779.61H622.82ZM664.74 769.12H675.22V779.61H664.74ZM654.26 779.61H664.74V790.1H654.26ZM748.59 779.61H759.07V790.1H748.59ZM769.55 779.61H790.51V790.1H769.55ZM622.82 790.1H633.3V800.59H622.82ZM643.78 790.1H654.26V800.59H643.78ZM622.82 800.59H633.3V811.08H622.82ZM601.86 811.08H612.34V821.57H601.86ZM622.82 811.08H633.3V821.57H622.82ZM780.03 842.56H811.47V853.05H780.03ZM664.74 863.54H675.22V874.03H664.74ZM664.74 884.52H675.22V895.01H664.74ZM874.35 884.52H884.84V895.01H874.35ZM664.74 895.01H675.22V905.5H664.74ZM727.63 895.01H738.11V905.5H727.63ZM727.63 905.5H738.11V916H727.63ZM727.63 916H738.11V926.49H727.63ZM895.32 957.96H916.28V968.45H895.32ZM926.76 957.96H937.24V968.45H926.76ZM1157.33 957.96H1167.81V968.45H1157.33ZM1209.74 957.96H1230.7V968.45H1209.74ZM884.84 968.45H895.32V978.94H884.84ZM905.8 968.45H916.28V978.94H905.8ZM916.28 978.94H926.76V989.44H916.28ZM769.55 989.44H780.03V999.93H769.55ZM549.45 999.93H580.9V1010.42H549.45ZM853.39 999.93H863.87V1010.42H853.39ZM895.32 999.93H916.28V1010.42H895.32ZM842.91 1010.42H853.39V1020.91H842.91ZM884.84 1010.42H895.32V1020.91H884.84ZM842.91 1020.91H863.87V1031.4H842.91ZM884.84 1020.91H895.32V1031.4H884.84ZM863.87 1031.4H874.35V1041.89H863.87ZM842.91 1041.89H853.39V1052.38H842.91ZM989.64 1094.35H1000.12V1104.84H989.64ZM979.16 1104.84H989.64V1115.33H979.16ZM1094.45 1104.84H1104.93V1115.33H1094.45ZM1188.77 1104.84H1199.25V1115.33H1188.77ZM1251.66 1104.84H1272.62V1115.33H1251.66ZM1209.74 1115.33H1230.7V1125.82H1209.74ZM1094.45 1125.82H1104.93V1136.32H1094.45ZM1178.29 1125.82H1188.77V1136.32H1178.29ZM1199.25 1125.82H1230.7V1136.32H1199.25ZM1146.85 1136.32H1157.33V1146.81H1146.85ZM1188.77 1136.32H1199.25V1146.81H1188.77ZM1209.74 1136.32H1230.7V1146.81H1209.74ZM1251.66 1146.81H1272.62V1157.3H1251.66ZM1188.77 1157.3H1199.25V1167.79H1188.77ZM1230.7 1157.3H1241.18V1167.79H1230.7ZM1104.93 1167.79H1115.41V1178.28H1104.93ZM1251.66 1167.79H1262.14V1178.28H1251.66ZM1146.85 1178.28H1157.33V1188.77H1146.85ZM1251.66 1178.28H1262.14V1188.77H1251.66ZM1241.18 1188.77H1251.66V1199.26H1241.18ZM1272.62 1188.77H1283.1V1199.26H1272.62ZM1115.41 1199.26H1125.89V1209.75H1115.41ZM1146.85 1199.26H1167.81V1209.75H1146.85ZM1230.7 1199.26H1241.18V1209.75H1230.7ZM1272.62 1199.26H1283.1V1209.75H1272.62ZM989.64 1209.75H1000.12V1220.25H989.64ZM1010.6 1209.75H1021.08V1220.25H1010.6ZM1157.33 1209.75H1178.29V1220.25H1157.33ZM1230.7 1209.75H1241.18V1220.25H1230.7ZM1052.53 1220.25H1063.01V1230.74H1052.53ZM1125.89 1220.25H1136.37V1230.74H1125.89ZM1251.66 1220.25H1262.14V1230.74H1251.66ZM1083.97 1230.74H1094.45V1241.23H1083.97ZM1230.7 1230.74H1241.18V1241.23H1230.7ZM1272.62 1230.74H1283.1V1241.23H1272.62ZM1104.93 1241.23H1115.41V1251.72H1104.93ZM1157.33 1241.23H1167.81V1251.72H1157.33ZM1188.77 1241.23H1199.25V1251.72H1188.77ZM1230.7 1241.23H1251.66V1251.72H1230.7ZM1021.08 1262.21H1031.56V1272.7H1021.08ZM1063.01 1262.21H1073.49V1272.7H1063.01ZM1083.97 1262.21H1094.45V1272.7H1083.97ZM1272.62 1262.21H1283.1V1272.7H1272.62ZM842.91 1272.7H853.39V1283.19H842.91ZM1083.97 1272.7H1104.93V1283.19H1083.97ZM1125.89 1272.7H1136.37V1283.19H1125.89ZM1167.81 1272.7H1178.29V1283.19H1167.81ZM1188.77 1272.7H1199.25V1283.19H1188.77ZM1094.45 1283.19H1104.93V1293.69H1094.45ZM1157.33 1283.19H1167.81V1293.69H1157.33ZM1230.7 1283.19H1251.66V1293.69H1230.7ZM1010.6 1293.69H1021.08V1304.18H1010.6ZM989.64 1304.18H1000.12V1314.67H989.64ZM1021.08 1304.18H1031.56V1314.67H1021.08ZM1042.05 1304.18H1052.53V1314.67H1042.05ZM1125.89 1304.18H1136.37V1314.67H1125.89ZM1157.33 1304.18H1167.81V1314.67H1157.33ZM1230.7 1304.18H1251.66V1314.67H1230.7ZM1010.6 1314.67H1021.08V1325.16H1010.6ZM842.91 1325.16H853.39V1335.65H842.91ZM1000.12 1325.16H1031.56V1335.65H1000.12ZM842.91 1335.65H853.39V1346.14H842.91ZM1000.12 1335.65H1031.56V1346.14H1000.12ZM1042.05 1346.14H1052.53V1356.63H1042.05ZM1083.97 1346.14H1104.93V1356.63H1083.97ZM1115.41 1346.14H1136.37V1356.63H1115.41ZM1167.81 1346.14H1178.29V1356.63H1167.81ZM1188.77 1346.14H1199.25V1356.63H1188.77ZM1073.49 1356.63H1083.97V1367.13H1073.49ZM1125.89 1356.63H1136.37V1367.13H1125.89ZM1167.81 1356.63H1178.29V1367.13H1167.81ZM1188.77 1356.63H1199.25V1367.13H1188.77ZM989.64 1367.13H1000.12V1377.62H989.64ZM1031.56 1367.13H1042.05V1377.62H1031.56ZM1052.53 1367.13H1073.49V1377.62H1052.53ZM1104.93 1367.13H1115.41V1377.62H1104.93ZM989.64 1377.62H1000.12V1388.11H989.64ZM1031.56 1377.62H1042.05V1388.11H1031.56ZM1073.49 1388.11H1094.45V1398.6H1073.49ZM1115.41 1388.11H1125.89V1398.6H1115.41ZM1146.85 1388.11H1157.33V1398.6H1146.85Z"/>
<path fill="#FF2000" d="M381.76 485.85H402.73V496.34H381.76ZM434.17 485.85H444.65V496.34H434.17ZM371.28 496.34H381.76V506.83H371.28ZM392.25 496.34H402.73V506.83H392.25ZM371.28 506.83H392.25V517.32H371.28ZM444.65 527.81H455.13V538.31H444.65ZM465.61 538.31H476.09V548.8H465.61ZM371.28 548.8H381.76V559.29H371.28ZM465.61 548.8H476.09V559.29H465.61ZM413.21 559.29H423.69V569.78H413.21ZM423.69 580.27H444.65V590.76H423.69ZM549.45 622.24H580.9V632.73H549.45ZM528.49 632.73H538.97V643.22H528.49ZM518.01 643.22H528.49V653.71H518.01ZM538.97 643.22H549.45V653.71H538.97ZM528.49 653.71H538.97V664.2H528.49ZM507.53 664.2H518.01V674.69H507.53ZM507.53 674.69H518.01V685.18H507.53ZM507.53 685.18H518.01V695.68H507.53ZM612.34 716.66H622.82V727.15H612.34ZM601.86 727.15H612.34V737.64H601.86ZM654.26 758.62H664.74V769.12H654.26ZM685.7 758.62H706.66V769.12H685.7ZM643.78 769.12H654.26V779.61H643.78ZM675.22 769.12H696.18V779.61H675.22ZM675.22 779.61H685.7V790.1H675.22ZM696.18 779.61H706.66V790.1H696.18ZM759.07 779.61H769.55V790.1H759.07ZM790.51 779.61H811.47V790.1H790.51ZM654.26 790.1H675.22V800.59H654.26ZM643.78 800.59H664.74V811.08H643.78ZM643.78 811.08H654.26V821.57H643.78ZM664.74 811.08H675.22V821.57H664.74ZM790.51 863.54H811.47V874.03H790.51ZM664.74 874.03H675.22V884.52H664.74ZM790.51 874.03H811.47V884.52H790.51ZM790.51 884.52H811.47V895.01H790.51ZM664.74 905.5H675.22V916H664.74ZM748.59 905.5H780.03V916H748.59ZM664.74 916H675.22V926.49H664.74ZM748.59 916H780.03V926.49H748.59ZM1230.7 957.96H1241.18V968.45H1230.7ZM1251.66 957.96H1283.1V968.45H1251.66ZM874.35 968.45H884.84V978.94H874.35ZM895.32 968.45H905.8V978.94H895.32ZM916.28 968.45H926.76V978.94H916.28ZM895.32 978.94H905.8V989.44H895.32ZM926.76 978.94H947.72V989.44H926.76ZM853.39 989.44H863.87V999.93H853.39ZM916.28 999.93H947.72V1010.42H916.28ZM853.39 1010.42H874.35V1020.91H853.39ZM905.8 1010.42H916.28V1020.91H905.8ZM937.24 1010.42H947.72V1020.91H937.24ZM895.32 1020.91H905.8V1031.4H895.32ZM937.24 1020.91H947.72V1031.4H937.24ZM853.39 1031.4H863.87V1041.89H853.39ZM884.84 1031.4H895.32V1041.89H884.84ZM863.87 1041.89H874.35V1052.38H863.87ZM884.84 1041.89H895.32V1052.38H884.84ZM863.87 1052.38H874.35V1062.88H863.87ZM884.84 1052.38H916.28V1062.88H884.84ZM1146.85 1104.84H1157.33V1115.33H1146.85ZM1178.29 1104.84H1188.77V1115.33H1178.29ZM1199.25 1104.84H1230.7V1115.33H1199.25ZM1094.45 1136.32H1104.93V1146.81H1094.45ZM1178.29 1136.32H1188.77V1146.81H1178.29ZM1199.25 1136.32H1209.74V1146.81H1199.25ZM1167.81 1146.81H1230.7V1157.3H1167.81ZM1073.49 1157.3H1083.97V1167.79H1073.49ZM1094.45 1157.3H1104.93V1167.79H1094.45ZM1178.29 1157.3H1188.77V1167.79H1178.29ZM1199.25 1157.3H1209.74V1167.79H1199.25ZM1241.18 1157.3H1283.1V1167.79H1241.18ZM1073.49 1167.79H1094.45V1178.28H1073.49ZM1188.77 1167.79H1199.25V1178.28H1188.77ZM1073.49 1178.28H1094.45V1188.77H1073.49ZM1199.25 1178.28H1230.7V1188.77H1199.25ZM1042.05 1188.77H1073.49V1199.26H1042.05ZM1115.41 1188.77H1125.89V1199.26H1115.41ZM1188.77 1188.77H1199.25V1199.26H1188.77ZM1262.14 1188.77H1272.62V1199.26H1262.14ZM1052.53 1199.26H1073.49V1209.75H1052.53ZM1188.77 1199.26H1199.25V1209.75H1188.77ZM1241.18 1199.26H1251.66V1209.75H1241.18ZM1262.14 1199.26H1272.62V1209.75H1262.14ZM1021.08 1209.75H1031.56V1220.25H1021.08ZM1042.05 1209.75H1052.53V1220.25H1042.05ZM1115.41 1209.75H1125.89V1220.25H1115.41ZM1146.85 1209.75H1157.33V1220.25H1146.85ZM1188.77 1209.75H1199.25V1220.25H1188.77ZM1241.18 1209.75H1251.66V1220.25H1241.18ZM1262.14 1209.75H1283.1V1220.25H1262.14ZM1199.25 1220.25H1230.7V1230.74H1199.25ZM1073.49 1230.74H1083.97V1241.23H1073.49ZM1094.45 1230.74H1104.93V1241.23H1094.45ZM1125.89 1230.74H1136.37V1241.23H1125.89ZM1178.29 1230.74H1188.77V1241.23H1178.29ZM1199.25 1230.74H1230.7V1241.23H1199.25ZM1262.14 1230.74H1272.62V1241.23H1262.14ZM1115.41 1241.23H1125.89V1251.72H1115.41ZM1262.14 1241.23H1283.1V1251.72H1262.14ZM1167.81 1251.72H1199.25V1262.21H1167.81ZM1251.66 1251.72H1262.14V1262.21H1251.66ZM1272.62 1251.72H1283.1V1262.21H1272.62ZM989.64 1262.21H1000.12V1272.7H989.64ZM1094.45 1262.21H1104.93V1272.7H1094.45ZM1167.81 1262.21H1178.29V1272.7H1167.81ZM1262.14 1262.21H1272.62V1272.7H1262.14ZM1178.29 1272.7H1188.77V1283.19H1178.29ZM1241.18 1272.7H1251.66V1283.19H1241.18ZM1031.56 1283.19H1042.05V1293.69H1031.56ZM1136.37 1283.19H1157.33V1293.69H1136.37ZM1272.62 1283.19H1283.1V1293.69H1272.62ZM989.64 1293.69H1000.12V1304.18H989.64ZM1021.08 1293.69H1052.53V1304.18H1021.08ZM1115.41 1293.69H1125.89V1304.18H1115.41ZM1136.37 1293.69H1146.85V1304.18H1136.37ZM1157.33 1293.69H1167.81V1304.18H1157.33ZM1230.7 1293.69H1251.66V1304.18H1230.7ZM1031.56 1304.18H1042.05V1314.67H1031.56ZM1052.53 1304.18H1063.01V1314.67H1052.53ZM1073.49 1304.18H1104.93V1314.67H1073.49ZM1136.37 1304.18H1146.85V1314.67H1136.37ZM1272.62 1304.18H1283.1V1314.67H1272.62ZM989.64 1314.67H1000.12V1325.16H989.64ZM1021.08 1314.67H1052.53V1325.16H1021.08ZM1063.01 1314.67H1073.49V1325.16H1063.01ZM1104.93 1314.67H1125.89V1325.16H1104.93ZM989.64 1325.16H1000.12V1335.65H989.64ZM1031.56 1325.16H1042.05V1335.65H1031.56ZM1063.01 1325.16H1073.49V1335.65H1063.01ZM1104.93 1325.16H1125.89V1335.65H1104.93ZM989.64 1335.65H1000.12V1346.14H989.64ZM1031.56 1335.65H1042.05V1346.14H1031.56ZM1063.01 1335.65H1073.49V1346.14H1063.01ZM1104.93 1335.65H1125.89V1346.14H1104.93ZM842.91 1346.14H853.39V1356.63H842.91ZM1178.29 1346.14H1188.77V1356.63H1178.29ZM1042.05 1356.63H1052.53V1367.13H1042.05ZM1083.97 1356.63H1104.93V1367.13H1083.97ZM1157.33 1356.63H1167.81V1367.13H1157.33ZM1178.29 1356.63H1188.77V1367.13H1178.29ZM842.91 1367.13H853.39V1377.62H842.91ZM1042.05 1367.13H1052.53V1377.62H1042.05ZM1136.37 1367.13H1146.85V1377.62H1136.37ZM842.91 1377.62H853.39V1388.11H842.91ZM1042.05 1377.62H1052.53V1388.11H1042.05ZM1073.49 1377.62H1104.93V1388.11H1073.49ZM1115.41 1377.62H1136.37V1388.11H1115.41ZM1146.85 1377.62H1157.33V1388.11H1146.85ZM842.91 1388.11H853.39V1398.6H842.91ZM1042.05 1388.11H1052.53V1398.6H1042.05ZM1094.45 1388.11H1104.93V1398.6H1094.45ZM1125.89 1388.11H1146.85V1398.6H1125.89ZM1167.81 1388.11H1178.29V1398.6H1167.81ZM1188.77 1388.11H1199.25V1398.6H1188.77Z"/>
<path fill="#FF0000" d="M423.69 527.81H434.17V538.31H423.69ZM413.21 538.31H423.69V548.8H413.21ZM444.65 538.31H455.13V548.8H444.65ZM444.65 548.8H455.13V559.29H444.65ZM423.69 559.29H444.65V569.78H423.69ZM455.13 559.29H476.09V569.78H455.13ZM444.65 569.78H455.13V580.27H444.65ZM465.61 569.78H476.09V580.27H465.61ZM444.65 580.27H465.61V590.76H444.65ZM538.97 632.73H580.9V643.22H538.97ZM549.45 643.22H580.9V653.71H549.45ZM518.01 653.71H528.49V664.2H518.01ZM549.45 653.71H580.9V664.2H549.45ZM518.01 664.2H549.45V674.69H518.01ZM559.94 664.2H580.9V674.69H559.94ZM518.01 674.69H559.94V685.18H518.01ZM570.42 674.69H580.9V685.18H570.42ZM518.01 685.18H570.42V695.68H518.01ZM633.3 737.64H643.78V748.13H633.3ZM622.82 748.13H633.3V758.62H622.82ZM696.18 769.12H706.66V779.61H696.18ZM685.7 779.61H696.18V790.1H685.7ZM685.7 790.1H706.66V800.59H685.7ZM664.74 800.59H685.7V811.08H664.74ZM696.18 800.59H706.66V811.08H696.18ZM654.26 811.08H664.74V821.57H654.26ZM675.22 811.08H696.18V821.57H675.22ZM738.11 842.56H748.59V853.05H738.11ZM727.63 853.05H738.11V863.54H727.63ZM790.51 895.01H811.47V905.5H790.51ZM780.03 905.5H790.51V916H780.03ZM800.99 905.5H811.47V916H800.99ZM780.03 916H800.99V926.49H780.03ZM863.87 968.45H874.35V978.94H863.87ZM926.76 968.45H947.72V978.94H926.76ZM853.39 978.94H863.87V989.44H853.39ZM874.35 978.94H884.84V989.44H874.35ZM863.87 989.44H874.35V999.93H863.87ZM916.28 1010.42H937.24V1020.91H916.28ZM916.28 1020.91H937.24V1031.4H916.28ZM895.32 1031.4H916.28V1041.89H895.32ZM926.76 1031.4H947.72V1041.89H926.76ZM853.39 1041.89H863.87V1052.38H853.39ZM895.32 1041.89H926.76V1052.38H895.32ZM937.24 1041.89H947.72V1052.38H937.24ZM853.39 1052.38H863.87V1062.88H853.39ZM916.28 1052.38H937.24V1062.88H916.28ZM1083.97 1157.3H1094.45V1167.79H1083.97ZM1209.74 1157.3H1230.7V1167.79H1209.74ZM1094.45 1167.79H1104.93V1178.28H1094.45ZM1178.29 1167.79H1188.77V1178.28H1178.29ZM1199.25 1167.79H1230.7V1178.28H1199.25ZM1094.45 1178.28H1115.41V1188.77H1094.45ZM1178.29 1178.28H1188.77V1188.77H1178.29ZM1083.97 1188.77H1115.41V1199.26H1083.97ZM1125.89 1188.77H1136.37V1199.26H1125.89ZM1178.29 1188.77H1188.77V1199.26H1178.29ZM1199.25 1188.77H1230.7V1199.26H1199.25ZM1251.66 1188.77H1262.14V1199.26H1251.66ZM1042.05 1199.26H1052.53V1209.75H1042.05ZM1073.49 1199.26H1083.97V1209.75H1073.49ZM1094.45 1199.26H1115.41V1209.75H1094.45ZM1125.89 1199.26H1136.37V1209.75H1125.89ZM1178.29 1199.26H1188.77V1209.75H1178.29ZM1199.25 1199.26H1230.7V1209.75H1199.25ZM1251.66 1199.26H1262.14V1209.75H1251.66ZM1052.53 1209.75H1094.45V1220.25H1052.53ZM1104.93 1209.75H1115.41V1220.25H1104.93ZM1125.89 1209.75H1136.37V1220.25H1125.89ZM1178.29 1209.75H1188.77V1220.25H1178.29ZM1199.25 1209.75H1230.7V1220.25H1199.25ZM1251.66 1209.75H1262.14V1220.25H1251.66ZM1063.01 1220.25H1104.93V1230.74H1063.01ZM1178.29 1220.25H1188.77V1230.74H1178.29ZM1251.66 1230.74H1262.14V1241.23H1251.66ZM1073.49 1241.23H1104.93V1251.72H1073.49ZM1178.29 1241.23H1188.77V1251.72H1178.29ZM1199.25 1241.23H1230.7V1251.72H1199.25ZM1251.66 1241.23H1262.14V1251.72H1251.66ZM1199.25 1251.72H1230.7V1262.21H1199.25ZM1262.14 1251.72H1272.62V1262.21H1262.14ZM1178.29 1262.21H1230.7V1272.7H1178.29ZM1251.66 1262.21H1262.14V1272.7H1251.66ZM1199.25 1272.7H1241.18V1283.19H1199.25ZM1251.66 1272.7H1283.1V1283.19H1251.66ZM1178.29 1283.19H1230.7V1293.69H1178.29ZM1251.66 1283.19H1272.62V1293.69H1251.66ZM1052.53 1293.69H1115.41V1304.18H1052.53ZM1125.89 1293.69H1136.37V1304.18H1125.89ZM1146.85 1293.69H1157.33V1304.18H1146.85ZM1167.81 1293.69H1178.29V1304.18H1167.81ZM1188.77 1293.69H1230.7V1304.18H1188.77ZM1251.66 1293.69H1283.1V1304.18H1251.66ZM1146.85 1304.18H1157.33V1314.67H1146.85ZM1167.81 1304.18H1188.77V1314.67H1167.81ZM1199.25 1304.18H1230.7V1314.67H1199.25ZM1251.66 1304.18H1272.62V1314.67H1251.66ZM1052.53 1314.67H1063.01V1325.16H1052.53ZM1073.49 1314.67H1104.93V1325.16H1073.49ZM1125.89 1314.67H1199.25V1325.16H1125.89ZM1209.74 1314.67H1283.1V1325.16H1209.74ZM1042.05 1325.16H1063.01V1335.65H1042.05ZM1073.49 1325.16H1104.93V1335.65H1073.49ZM1125.89 1325.16H1209.74V1335.65H1125.89ZM1220.22 1325.16H1283.1V1335.65H1220.22ZM1042.05 1335.65H1063.01V1346.14H1042.05ZM1073.49 1335.65H1104.93V1346.14H1073.49ZM1125.89 1335.65H1220.22V1346.14H1125.89ZM1230.7 1335.65H1283.1V1346.14H1230.7ZM1157.33 1346.14H1167.81V1356.63H1157.33ZM1199.25 1346.14H1230.7V1356.63H1199.25ZM1241.18 1346.14H1283.1V1356.63H1241.18ZM1199.25 1356.63H1241.18V1367.13H1199.25ZM1251.66 1356.63H1283.1V1367.13H1251.66ZM1073.49 1367.13H1104.93V1377.62H1073.49ZM1115.41 1367.13H1136.37V1377.62H1115.41ZM1146.85 1367.13H1251.66V1377.62H1146.85ZM1262.14 1367.13H1283.1V1377.62H1262.14ZM1136.37 1377.62H1146.85V1388.11H1136.37ZM1157.33 1377.62H1262.14V1388.11H1157.33ZM1272.62 1377.62H1283.1V1388.11H1272.62ZM1157.33 1388.11H1167.81V1398.6H1157.33ZM1178.29 1388.11H1188.77V1398.6H1178.29ZM1199.25 1388.11H1272.62V1398.6H1199.25Z"/>
</g>
<g font-family="'Liberation Serif','Times New Roman',Times,serif" font-weight="bold" font-size="11" text-anchor="end">
<text transform="translate(316.04 1408.3) rotate(-90) scale(0.84 1)" fill="#000000">Glucitol</text>
<text transform="translate(326.52 1408.3) rotate(-90) scale(0.84 1)" fill="#000000">Putrescine</text>
<text transform="translate(337 1408.3) rotate(-90) scale(0.84 1)" fill="#FF00FF">Xylulose 5−phosphate</text>
<text transform="translate(347.48 1408.3) rotate(-90) scale(0.84 1)" fill="#FF00FF">Ethanedioic acid</text>
<text transform="translate(357.96 1408.3) rotate(-90) scale(0.84 1)" fill="#FF00FF">Alanine</text>
<text transform="translate(368.44 1408.3) rotate(-90) scale(0.84 1)" fill="#FF00FF">Rhamnose</text>
<text transform="translate(378.92 1408.3) rotate(-90) scale(0.84 1)" fill="#FF00FF">Indole</text>
<text transform="translate(389.4 1408.3) rotate(-90) scale(0.84 1)" fill="#FF00FF">Picolinic acid</text>
<text transform="translate(399.89 1408.3) rotate(-90) scale(0.84 1)" fill="#FF00FF">Pentanoic acid</text>
<text transform="translate(410.37 1408.3) rotate(-90) scale(0.84 1)" fill="#FF00FF">Sedoheptulose 7−phosphate</text>
<text transform="translate(420.85 1408.3) rotate(-90) scale(0.84 1)" fill="#FF00FF">Shikimate</text>
<text transform="translate(431.33 1408.3) rotate(-90) scale(0.84 1)" fill="#FF00FF">Lysine</text>
<text transform="translate(441.81 1408.3) rotate(-90) scale(0.84 1)" fill="#FF00FF">Ribulose 5−phosphate</text>
<text transform="translate(452.29 1408.3) rotate(-90) scale(0.84 1)" fill="#FF00FF">Linoleic acid</text>
<text transform="translate(462.77 1408.3) rotate(-90) scale(0.84 1)" fill="#FF00FF">Ethanol</text>
<text transform="translate(473.25 1408.3) rotate(-90) scale(0.84 1)" fill="#FF00FF">Erythrose 4−phosphate</text>
<text transform="translate(483.73 1408.3) rotate(-90) scale(0.84 1)" fill="#000000">Glycerol 3−phosphate</text>
<text transform="translate(494.21 1408.3) rotate(-90) scale(0.84 1)" fill="#000000">Acetone</text>
<text transform="translate(504.69 1408.3) rotate(-90) scale(0.84 1)" fill="#000000">Serine</text>
<text transform="translate(515.17 1408.3) rotate(-90) scale(0.84 1)" fill="#000000">Benzoic acid</text>
<text transform="translate(525.65 1408.3) rotate(-90) scale(0.84 1)" fill="#000000">Heptadecanoic acid</text>
<text transform="translate(536.13 1408.3) rotate(-90) scale(0.84 1)" fill="#000000">Ornithine</text>
<text transform="translate(546.61 1408.3) rotate(-90) scale(0.84 1)" fill="#000000">n−Pentadecanoic acid</text>
<text transform="translate(557.1 1408.3) rotate(-90) scale(0.84 1)" fill="#000000">Urea</text>
<text transform="translate(567.58 1408.3) rotate(-90) scale(0.84 1)" fill="#000000">Leucine</text>
<text transform="translate(578.06 1408.3) rotate(-90) scale(0.84 1)" fill="#000000">Galactose</text>
<text transform="translate(588.54 1408.3) rotate(-90) scale(0.84 1)" fill="#008000">Proline</text>
<text transform="translate(599.02 1408.3) rotate(-90) scale(0.84 1)" fill="#008000">Butanal</text>
<text transform="translate(609.5 1408.3) rotate(-90) scale(0.84 1)" fill="#008000">Isoleucine</text>
<text transform="translate(619.98 1408.3) rotate(-90) scale(0.84 1)" fill="#008000">Cadaverine</text>
<text transform="translate(630.46 1408.3) rotate(-90) scale(0.84 1)" fill="#008000">Phenylalanine</text>
<text transform="translate(640.94 1408.3) rotate(-90) scale(0.84 1)" fill="#008000">Allothreonine</text>
<text transform="translate(651.42 1408.3) rotate(-90) scale(0.84 1)" fill="#008000">Norleucine</text>
<text transform="translate(661.9 1408.3) rotate(-90) scale(0.84 1)" fill="#008000">Tyrosine</text>
<text transform="translate(672.38 1408.3) rotate(-90) scale(0.84 1)" fill="#008000">Acetoin</text>
<text transform="translate(682.86 1408.3) rotate(-90) scale(0.84 1)" fill="#008000">Threonine</text>
<text transform="translate(693.34 1408.3) rotate(-90) scale(0.84 1)" fill="#008000">Lactate</text>
<text transform="translate(703.82 1408.3) rotate(-90) scale(0.84 1)" fill="#008000">Aspartic acid</text>
<text transform="translate(714.3 1408.3) rotate(-90) scale(0.84 1)" fill="#0000FF">Arabinal</text>
<text transform="translate(724.79 1408.3) rotate(-90) scale(0.84 1)" fill="#0000FF">Fructose 6−phosphate</text>
<text transform="translate(735.27 1408.3) rotate(-90) scale(0.84 1)" fill="#0000FF">Octadecanoic acid</text>
<text transform="translate(745.75 1408.3) rotate(-90) scale(0.84 1)" fill="#0000FF">1,3−Butanediol</text>
<text transform="translate(756.23 1408.3) rotate(-90) scale(0.84 1)" fill="#0000FF">Glycerol</text>
<text transform="translate(766.71 1408.3) rotate(-90) scale(0.84 1)" fill="#0000FF">Dodecanoic acid</text>
<text transform="translate(777.19 1408.3) rotate(-90) scale(0.84 1)" fill="#0000FF">Glyoxylic acid</text>
<text transform="translate(787.67 1408.3) rotate(-90) scale(0.84 1)" fill="#0000FF">Glucose</text>
<text transform="translate(798.15 1408.3) rotate(-90) scale(0.84 1)" fill="#0000FF">Trehalose</text>
<text transform="translate(808.63 1408.3) rotate(-90) scale(0.84 1)" fill="#0000FF">Decanedioic acid</text>
<text transform="translate(819.11 1408.3) rotate(-90) scale(0.84 1)" fill="#FF0000">Hexadecanoic acid</text>
<text transform="translate(829.59 1408.3) rotate(-90) scale(0.84 1)" fill="#FF0000">Nonanedioic acid</text>
<text transform="translate(840.07 1408.3) rotate(-90) scale(0.84 1)" fill="#FF0000">Docosanoic acid</text>
<text transform="translate(850.55 1408.3) rotate(-90) scale(0.84 1)" fill="#FF0000">Methylmalonate</text>
<text transform="translate(861.03 1408.3) rotate(-90) scale(0.84 1)" fill="#FF0000">Fructose 1,6−bisphosphate</text>
<text transform="translate(871.51 1408.3) rotate(-90) scale(0.84 1)" fill="#FF0000">Glucose 6−phosphate</text>
<text transform="translate(882 1408.3) rotate(-90) scale(0.84 1)" fill="#FF0000">2−Oxobutanoate</text>
<text transform="translate(892.48 1408.3) rotate(-90) scale(0.84 1)" fill="#FF0000">Nicotinate</text>
<text transform="translate(902.96 1408.3) rotate(-90) scale(0.84 1)" fill="#FF0000">Niacinamide</text>
<text transform="translate(913.44 1408.3) rotate(-90) scale(0.84 1)" fill="#FF0000">Nonanoic acid</text>
<text transform="translate(923.92 1408.3) rotate(-90) scale(0.84 1)" fill="#FF0000">Tetradecanoic acid</text>
<text transform="translate(934.4 1408.3) rotate(-90) scale(0.84 1)" fill="#FF0000">6−Phospho−D−gluconate</text>
<text transform="translate(944.88 1408.3) rotate(-90) scale(0.84 1)" fill="#FF0000">Malonic acid</text>
<text transform="translate(955.36 1408.3) rotate(-90) scale(0.84 1)" fill="#000000">Tryptophol</text>
<text transform="translate(965.84 1408.3) rotate(-90) scale(0.84 1)" fill="#000000">Tryptophan</text>
<text transform="translate(976.32 1408.3) rotate(-90) scale(0.84 1)" fill="#000000">Homocystine</text>
<text transform="translate(986.8 1408.3) rotate(-90) scale(0.84 1)" fill="#000000">Glyceraldehyde 3−phosphate</text>
<text transform="translate(997.28 1408.3) rotate(-90) scale(0.84 1)" fill="#000000">Eicosanoic acid</text>
<text transform="translate(1007.76 1408.3) rotate(-90) scale(0.84 1)" fill="#000000">Adenosine</text>
<text transform="translate(1018.24 1408.3) rotate(-90) scale(0.84 1)" fill="#000000">Glycerate 3−phosphate</text>
<text transform="translate(1028.72 1408.3) rotate(-90) scale(0.84 1)" fill="#000000">Glycine</text>
<text transform="translate(1039.2 1408.3) rotate(-90) scale(0.84 1)" fill="#000000">Glucuronic acid</text>
<text transform="translate(1049.69 1408.3) rotate(-90) scale(0.84 1)" fill="#000000">Citrate</text>
<text transform="translate(1060.17 1408.3) rotate(-90) scale(0.84 1)" fill="#000000">Guanine</text>
<text transform="translate(1070.65 1408.3) rotate(-90) scale(0.84 1)" fill="#000000">Methionine</text>
<text transform="translate(1081.13 1408.3) rotate(-90) scale(0.84 1)" fill="#000000">Homoserine</text>
<text transform="translate(1091.61 1408.3) rotate(-90) scale(0.84 1)" fill="#000000">Maltose</text>
<text transform="translate(1102.09 1408.3) rotate(-90) scale(0.84 1)" fill="#000000">Uracil</text>
<text transform="translate(1112.57 1408.3) rotate(-90) scale(0.84 1)" fill="#000000">Hydroxylamine</text>
<text transform="translate(1123.05 1408.3) rotate(-90) scale(0.84 1)" fill="#000000">Pyruvate</text>
<text transform="translate(1133.53 1408.3) rotate(-90) scale(0.84 1)" fill="#000000">Malate</text>
<text transform="translate(1144.01 1408.3) rotate(-90) scale(0.84 1)" fill="#000000">Myo−Inositol</text>
<text transform="translate(1154.49 1408.3) rotate(-90) scale(0.84 1)" fill="#000000">Guanosine</text>
<text transform="translate(1164.97 1408.3) rotate(-90) scale(0.84 1)" fill="#000000">Valine</text>
<text transform="translate(1175.45 1408.3) rotate(-90) scale(0.84 1)" fill="#000000">Thymidine</text>
<text transform="translate(1185.93 1408.3) rotate(-90) scale(0.84 1)" fill="#000000">Ribose 5−phosphate</text>
<text transform="translate(1196.41 1408.3) rotate(-90) scale(0.84 1)" fill="#000000">Nonadecanoic acid</text>
<text transform="translate(1206.9 1408.3) rotate(-90) scale(0.84 1)" fill="#000000">Oleic acid</text>
<text transform="translate(1217.38 1408.3) rotate(-90) scale(0.84 1)" fill="#000000">Glutamic acid</text>
<text transform="translate(1227.86 1408.3) rotate(-90) scale(0.84 1)" fill="#000000">Pipecolate</text>
<text transform="translate(1238.34 1408.3) rotate(-90) scale(0.84 1)" fill="#000000">Phosphoenolpyruvate</text>
<text transform="translate(1248.82 1408.3) rotate(-90) scale(0.84 1)" fill="#000000">2−Oxoglutarate</text>
<text transform="translate(1259.3 1408.3) rotate(-90) scale(0.84 1)" fill="#000000">Oxaloacetate</text>
<text transform="translate(1269.78 1408.3) rotate(-90) scale(0.84 1)" fill="#000000">Succinate</text>
<text transform="translate(1280.26 1408.3) rotate(-90) scale(0.84 1)" fill="#000000">Fumarate</text>
</g>
<path d="M334.3 1509.1V1513.6Q334.3 1521.6 342.3 1521.6H393Q403 1521.6 403 1531.6V1534.8M403 1534.8V1531.6Q403 1521.6 413 1521.6H462.5Q470.5 1521.6 470.5 1513.6V1509.1" fill="none" stroke="#FF00FF" stroke-width="4.8" stroke-linecap="butt" stroke-linejoin="round"/>
<path d="M584.7 1509.1V1513.6Q584.7 1521.6 592.7 1521.6H633.8Q643.8 1521.6 643.8 1531.6V1534.8M643.8 1534.8V1531.6Q643.8 1521.6 653.8 1521.6H693.1Q701.1 1521.6 701.1 1513.6V1509.1" fill="none" stroke="#008000" stroke-width="4.8" stroke-linecap="butt" stroke-linejoin="round"/>
<path d="M711.4 1509.1V1513.6Q711.4 1521.6 719.4 1521.6H750.7Q760.7 1521.6 760.7 1531.6V1534.8M760.7 1534.8V1531.6Q760.7 1521.6 770.7 1521.6H798.7Q806.7 1521.6 806.7 1513.6V1509.1" fill="none" stroke="#0000FF" stroke-width="4.8" stroke-linecap="butt" stroke-linejoin="round"/>
<path d="M815.9 1509.1V1513.6Q815.9 1521.6 823.9 1521.6H868.7Q878.7 1521.6 878.7 1531.6V1534.8M878.7 1534.8V1531.6Q878.7 1521.6 888.7 1521.6H933.6Q941.6 1521.6 941.6 1513.6V1509.1" fill="none" stroke="#FF0000" stroke-width="4.8" stroke-linecap="butt" stroke-linejoin="round"/>
<g font-family="'Liberation Serif','Times New Roman',Times,serif" font-weight="bold" font-size="41.5" text-anchor="middle">
<text id="m4" transform="translate(406 1569.7) scale(0.97 1)" fill="#FF00FF">M4</text>
<text id="m3" transform="translate(649.1 1571.2) scale(0.97 1)" fill="#008000">M3</text>
<text id="m1" transform="translate(761.5 1572) scale(0.95 1)" fill="#0000FF">M1</text>
<text id="m2" transform="translate(883.5 1571.2) scale(0.97 1)" fill="#FF0000">M2</text>
</g>
</svg>
</body></html>
